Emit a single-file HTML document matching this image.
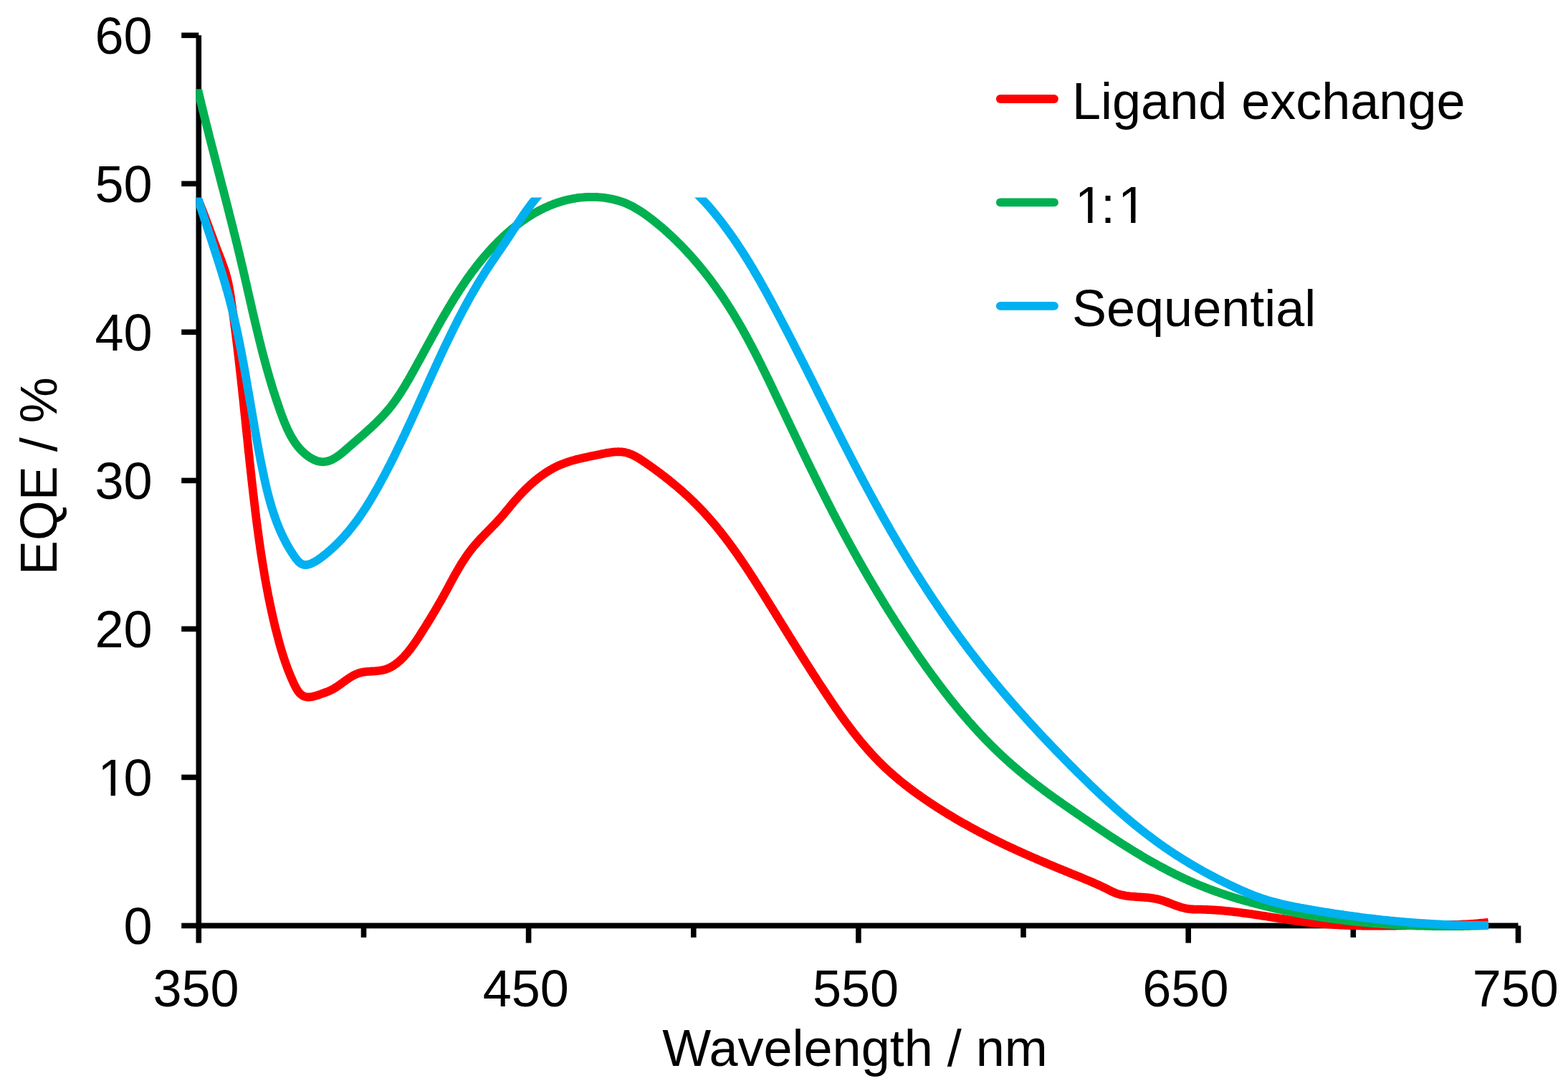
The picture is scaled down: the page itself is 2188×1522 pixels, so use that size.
<!DOCTYPE html>
<html><head><meta charset="utf-8"><title>EQE vs Wavelength</title>
<style>html,body{margin:0;padding:0;background:#fff;}body{width:2188px;height:1522px;overflow:hidden;}svg{display:block;}</style>
</head><body>
<svg xmlns="http://www.w3.org/2000/svg" width="2188" height="1522" viewBox="0 0 2188 1522">
<g stroke="#000" stroke-width="7.6" fill="none">
<path d="M277.3,49.3 V1291.4 H2118.5"/>
<path d="M253.2,1291.4 H277.3"/>
<path d="M253.2,1084.4 H277.3"/>
<path d="M253.2,877.4 H277.3"/>
<path d="M253.2,670.4 H277.3"/>
<path d="M253.2,463.3 H277.3"/>
<path d="M253.2,256.3 H277.3"/>
<path d="M253.2,49.3 H277.3"/>
<path d="M277.3,1291.4 V1315.5"/>
<path d="M737.6,1291.4 V1315.5"/>
<path d="M1197.9,1291.4 V1315.5"/>
<path d="M1658.2,1291.4 V1315.5"/>
<path d="M2118.5,1291.4 V1315.5"/>
<path d="M507.5,1291.4 V1307.8"/>
<path d="M967.8,1291.4 V1307.8"/>
<path d="M1428.0,1291.4 V1307.8"/>
<path d="M1888.3,1291.4 V1307.8"/>
</g>
<defs>
<clipPath id="cr"><rect x="273.4" y="277.0" width="1915" height="1023.0"/></clipPath>
<clipPath id="cg"><rect x="273.4" y="124.2" width="1915" height="1175.8"/></clipPath>
<clipPath id="cb"><rect x="273.4" y="275.6" width="1915" height="1024.4"/></clipPath>
</defs>
<g fill="none" stroke-width="11.8" stroke-linejoin="round" stroke-linecap="butt">
<path clip-path="url(#cr)" stroke="#FF0000" d="M273.5,271.7 L274.3,273.6 L275.1,275.4 L275.9,277.3 L276.7,279.1 L277.4,281.0 L278.2,282.8 L279.0,284.7 L279.7,286.5 L280.4,288.4 L281.2,290.2 L281.9,292.1 L282.6,294.0 L283.4,295.8 L284.1,297.7 L284.8,299.6 L285.5,301.4 L286.2,303.3 L286.9,305.2 L287.6,307.0 L288.3,308.9 L289.0,310.8 L289.7,312.7 L290.4,314.5 L291.1,316.4 L291.8,318.3 L292.5,320.2 L293.1,322.0 L293.8,323.9 L294.5,325.8 L295.2,327.7 L295.9,329.5 L296.6,331.4 L297.3,333.3 L298.0,335.2 L298.7,337.0 L299.4,338.9 L300.1,340.8 L300.8,342.7 L301.5,344.5 L302.2,346.4 L302.9,348.3 L303.6,350.2 L304.3,352.0 L305.1,353.9 L305.8,355.8 L306.5,357.6 L307.2,359.5 L308.0,361.4 L308.7,363.3 L309.4,365.1 L310.1,367.0 L310.7,368.9 L311.4,370.8 L312.1,372.7 L312.7,374.5 L313.4,376.4 L314.0,378.3 L314.6,380.2 L315.2,382.1 L315.7,384.1 L316.3,386.0 L316.8,387.9 L317.3,389.8 L317.7,391.8 L318.2,393.7 L318.6,395.7 L319.0,397.6 L319.4,399.6 L319.8,401.5 L320.1,403.5 L320.5,405.5 L320.8,407.5 L321.1,409.4 L321.5,411.4 L321.8,413.4 L322.1,415.4 L322.3,417.4 L322.6,419.3 L322.9,421.3 L323.2,423.3 L323.5,425.3 L323.8,427.3 L324.1,429.2 L324.3,431.2 L324.6,433.2 L324.9,435.2 L325.2,437.2 L325.4,439.2 L325.7,441.2 L326.0,443.1 L326.2,445.1 L326.5,447.1 L326.8,449.1 L327.0,451.1 L327.3,453.1 L327.5,455.0 L327.8,457.0 L328.1,459.0 L328.3,461.0 L328.6,463.0 L328.8,465.0 L329.1,466.9 L329.3,468.9 L329.6,470.9 L329.8,472.9 L330.0,474.9 L330.3,476.9 L330.5,478.9 L330.8,480.8 L331.0,482.8 L331.3,484.8 L331.5,486.8 L331.7,488.8 L332.0,490.8 L332.2,492.8 L332.4,494.7 L332.7,496.7 L332.9,498.7 L333.1,500.7 L333.4,502.7 L333.6,504.7 L333.8,506.7 L334.0,508.6 L334.3,510.6 L334.5,512.6 L334.7,514.6 L334.9,516.6 L335.2,518.6 L335.4,520.6 L335.6,522.5 L335.8,524.5 L336.0,526.5 L336.3,528.5 L336.5,530.5 L336.7,532.5 L336.9,534.5 L337.1,536.5 L337.3,538.4 L337.6,540.4 L337.8,542.4 L338.0,544.4 L338.2,546.4 L338.4,548.4 L338.6,550.4 L338.8,552.3 L339.0,554.3 L339.3,556.3 L339.5,558.3 L339.7,560.3 L339.9,562.3 L340.1,564.3 L340.3,566.3 L340.5,568.2 L340.7,570.2 L340.9,572.2 L341.1,574.2 L341.3,576.2 L341.5,578.2 L341.8,580.2 L342.0,582.2 L342.2,584.2 L342.4,586.1 L342.6,588.1 L342.8,590.1 L343.0,592.1 L343.2,594.1 L343.4,596.1 L343.6,598.1 L343.8,600.1 L344.0,602.0 L344.2,604.0 L344.4,606.0 L344.6,608.0 L344.9,610.0 L345.1,612.0 L345.3,614.0 L345.5,616.0 L345.7,617.9 L345.9,619.9 L346.1,621.9 L346.3,623.9 L346.5,625.9 L346.7,627.9 L346.9,629.9 L347.1,631.9 L347.4,633.9 L347.6,635.8 L347.8,637.8 L348.0,639.8 L348.2,641.8 L348.4,643.8 L348.6,645.8 L348.8,647.8 L349.1,649.8 L349.3,651.8 L349.5,653.7 L349.7,655.7 L349.9,657.7 L350.1,659.7 L350.4,661.7 L350.6,663.7 L350.8,665.7 L351.0,667.7 L351.2,669.6 L351.5,671.6 L351.7,673.6 L351.9,675.6 L352.1,677.6 L352.4,679.6 L352.6,681.6 L352.8,683.6 L353.0,685.6 L353.3,687.5 L353.5,689.5 L353.7,691.5 L354.0,693.5 L354.2,695.5 L354.4,697.5 L354.7,699.5 L354.9,701.5 L355.1,703.5 L355.4,705.4 L355.6,707.4 L355.9,709.4 L356.1,711.4 L356.3,713.4 L356.6,715.4 L356.8,717.4 L357.1,719.4 L357.3,721.4 L357.6,723.3 L357.8,725.3 L358.1,727.3 L358.3,729.3 L358.6,731.3 L358.9,733.3 L359.1,735.3 L359.4,737.3 L359.6,739.2 L359.9,741.2 L360.2,743.2 L360.4,745.2 L360.7,747.2 L361.0,749.2 L361.3,751.2 L361.5,753.1 L361.8,755.1 L362.1,757.1 L362.4,759.1 L362.7,761.1 L362.9,763.0 L363.2,765.0 L363.5,767.0 L363.8,769.0 L364.1,771.0 L364.4,773.0 L364.7,774.9 L365.0,776.9 L365.3,778.9 L365.6,780.9 L365.9,782.8 L366.3,784.8 L366.6,786.8 L366.9,788.8 L367.2,790.7 L367.5,792.7 L367.9,794.7 L368.2,796.7 L368.5,798.6 L368.9,800.6 L369.2,802.6 L369.5,804.5 L369.9,806.5 L370.2,808.5 L370.6,810.4 L370.9,812.4 L371.3,814.4 L371.6,816.3 L372.0,818.3 L372.4,820.3 L372.7,822.2 L373.1,824.2 L373.5,826.2 L373.9,828.1 L374.2,830.1 L374.6,832.0 L375.0,834.0 L375.4,835.9 L375.8,837.9 L376.2,839.8 L376.6,841.8 L377.0,843.7 L377.4,845.7 L377.8,847.6 L378.3,849.6 L378.7,851.5 L379.1,853.5 L379.5,855.4 L380.0,857.4 L380.4,859.3 L380.8,861.3 L381.3,863.2 L381.7,865.1 L382.2,867.1 L382.6,869.0 L383.1,870.9 L383.6,872.9 L384.0,874.8 L384.5,876.7 L385.0,878.7 L385.5,880.6 L386.0,882.5 L386.5,884.4 L387.0,886.4 L387.5,888.3 L388.0,890.2 L388.5,892.1 L389.0,894.0 L389.5,896.0 L390.0,897.9 L390.6,899.8 L391.1,901.7 L391.7,903.6 L392.2,905.5 L392.8,907.4 L393.4,909.4 L394.0,911.3 L394.6,913.2 L395.2,915.1 L395.8,917.0 L396.4,918.9 L397.1,920.8 L397.7,922.7 L398.4,924.6 L399.0,926.5 L399.7,928.4 L400.4,930.3 L401.1,932.2 L401.8,934.1 L402.6,936.0 L403.3,937.9 L404.1,939.8 L404.9,941.7 L405.6,943.6 L406.5,945.5 L407.3,947.4 L408.1,949.3 L409.0,951.2 L409.8,953.1 L410.7,954.9 L411.6,956.8 L412.6,958.7 L413.6,960.4 L414.6,962.2 L415.7,963.8 L416.8,965.4 L418.0,966.8 L419.3,968.1 L420.7,969.2 L422.1,970.2 L423.6,971.1 L425.3,971.7 L427.0,972.1 L428.8,972.4 L430.7,972.5 L432.6,972.4 L434.5,972.1 L436.5,971.8 L438.5,971.3 L440.5,970.8 L442.5,970.1 L444.5,969.5 L446.6,968.7 L448.6,968.0 L450.5,967.3 L452.5,966.6 L454.4,965.9 L456.3,965.2 L458.2,964.5 L460.0,963.7 L461.8,962.8 L463.6,961.9 L465.3,961.0 L467.1,959.9 L468.8,958.9 L470.4,957.8 L472.1,956.6 L473.8,955.5 L475.4,954.3 L477.1,953.1 L478.7,951.9 L480.3,950.7 L482.0,949.5 L483.6,948.4 L485.3,947.2 L487.0,946.1 L488.6,945.0 L490.3,944.0 L492.0,943.0 L493.8,942.0 L495.5,941.2 L497.3,940.4 L499.1,939.7 L500.9,939.0 L502.8,938.5 L504.7,938.0 L506.7,937.7 L508.6,937.4 L510.6,937.1 L512.6,936.9 L514.7,936.8 L516.7,936.6 L518.7,936.5 L520.8,936.4 L522.8,936.3 L524.8,936.1 L526.8,936.0 L528.8,935.7 L530.8,935.5 L532.7,935.1 L534.7,934.7 L536.5,934.3 L538.4,933.7 L540.2,933.0 L542.0,932.3 L543.7,931.5 L545.5,930.6 L547.2,929.7 L548.8,928.7 L550.4,927.6 L552.0,926.5 L553.6,925.3 L555.2,924.1 L556.7,922.8 L558.2,921.5 L559.6,920.1 L561.1,918.7 L562.5,917.3 L563.9,915.9 L565.2,914.4 L566.5,912.9 L567.9,911.3 L569.2,909.8 L570.4,908.2 L571.7,906.7 L572.9,905.1 L574.1,903.5 L575.3,901.8 L576.5,900.2 L577.7,898.6 L578.8,896.9 L579.9,895.3 L581.1,893.6 L582.2,892.0 L583.3,890.3 L584.4,888.6 L585.5,886.9 L586.6,885.2 L587.6,883.5 L588.7,881.8 L589.8,880.1 L590.8,878.4 L591.9,876.8 L593.0,875.1 L594.0,873.4 L595.1,871.7 L596.1,870.0 L597.2,868.3 L598.2,866.6 L599.3,864.9 L600.3,863.2 L601.3,861.5 L602.4,859.8 L603.4,858.0 L604.4,856.3 L605.5,854.6 L606.5,852.9 L607.5,851.2 L608.5,849.5 L609.5,847.8 L610.5,846.1 L611.5,844.3 L612.5,842.6 L613.5,840.9 L614.5,839.1 L615.5,837.4 L616.5,835.7 L617.4,833.9 L618.4,832.2 L619.4,830.4 L620.3,828.7 L621.3,826.9 L622.3,825.2 L623.2,823.4 L624.2,821.7 L625.1,819.9 L626.1,818.2 L627.0,816.4 L627.9,814.6 L628.9,812.9 L629.8,811.1 L630.8,809.4 L631.7,807.6 L632.7,805.8 L633.7,804.1 L634.6,802.3 L635.6,800.6 L636.6,798.9 L637.6,797.1 L638.6,795.4 L639.6,793.7 L640.6,791.9 L641.6,790.2 L642.6,788.5 L643.7,786.8 L644.7,785.1 L645.8,783.4 L646.9,781.8 L648.0,780.1 L649.1,778.4 L650.2,776.8 L651.3,775.1 L652.5,773.5 L653.6,771.9 L654.8,770.3 L656.0,768.7 L657.2,767.1 L658.5,765.5 L659.7,764.0 L661.0,762.4 L662.3,760.9 L663.6,759.4 L664.9,757.9 L666.3,756.4 L667.6,754.9 L669.0,753.4 L670.4,751.9 L671.8,750.4 L673.1,749.0 L674.5,747.5 L675.9,746.0 L677.3,744.6 L678.8,743.1 L680.2,741.7 L681.6,740.2 L683.0,738.8 L684.4,737.4 L685.8,735.9 L687.2,734.5 L688.6,733.0 L690.0,731.6 L691.4,730.1 L692.7,728.7 L694.1,727.2 L695.4,725.8 L696.8,724.3 L698.1,722.8 L699.4,721.3 L700.7,719.9 L702.0,718.4 L703.3,716.9 L704.5,715.4 L705.8,713.8 L707.0,712.3 L708.3,710.8 L709.5,709.3 L710.8,707.8 L712.0,706.3 L713.3,704.7 L714.6,703.2 L715.8,701.7 L717.1,700.2 L718.4,698.7 L719.7,697.2 L721.1,695.7 L722.4,694.2 L723.8,692.7 L725.1,691.2 L726.5,689.7 L727.9,688.2 L729.3,686.8 L730.7,685.3 L732.1,683.9 L733.6,682.4 L735.1,681.0 L736.5,679.6 L738.0,678.2 L739.5,676.8 L741.0,675.4 L742.5,674.1 L744.1,672.8 L745.6,671.4 L747.2,670.1 L748.8,668.8 L750.3,667.6 L751.9,666.3 L753.6,665.1 L755.2,663.9 L756.8,662.7 L758.5,661.6 L760.1,660.4 L761.8,659.3 L763.5,658.2 L765.2,657.2 L766.9,656.1 L768.6,655.1 L770.3,654.2 L772.0,653.2 L773.8,652.3 L775.6,651.4 L777.3,650.5 L779.1,649.7 L780.9,648.9 L782.7,648.1 L784.5,647.4 L786.4,646.7 L788.2,646.0 L790.0,645.4 L791.9,644.7 L793.8,644.1 L795.6,643.5 L797.5,642.9 L799.4,642.4 L801.3,641.9 L803.2,641.3 L805.1,640.8 L807.1,640.4 L809.0,639.9 L810.9,639.4 L812.9,639.0 L814.8,638.5 L816.8,638.1 L818.7,637.7 L820.7,637.2 L822.7,636.8 L824.7,636.4 L826.7,636.0 L828.7,635.6 L830.7,635.2 L832.7,634.8 L834.7,634.4 L836.7,634.0 L838.7,633.5 L840.7,633.1 L842.8,632.7 L844.8,632.3 L846.8,631.9 L848.8,631.6 L850.8,631.3 L852.9,631.0 L854.9,630.7 L856.8,630.5 L858.8,630.4 L860.8,630.3 L862.8,630.2 L864.7,630.3 L866.6,630.4 L868.6,630.5 L870.5,630.8 L872.3,631.1 L874.2,631.6 L876.0,632.1 L877.8,632.7 L879.6,633.4 L881.4,634.1 L883.2,634.9 L885.0,635.8 L886.7,636.7 L888.4,637.7 L890.2,638.7 L891.9,639.7 L893.6,640.8 L895.3,641.9 L897.0,643.0 L898.6,644.1 L900.3,645.3 L902.0,646.4 L903.6,647.6 L905.3,648.8 L907.0,649.9 L908.6,651.1 L910.3,652.3 L911.9,653.4 L913.5,654.6 L915.2,655.8 L916.8,657.0 L918.4,658.2 L920.0,659.4 L921.7,660.6 L923.3,661.8 L924.9,663.1 L926.5,664.3 L928.1,665.5 L929.6,666.8 L931.2,668.0 L932.8,669.2 L934.4,670.5 L935.9,671.8 L937.5,673.0 L939.0,674.3 L940.6,675.6 L942.1,676.9 L943.7,678.1 L945.2,679.4 L946.7,680.7 L948.2,682.0 L949.7,683.4 L951.3,684.7 L952.8,686.0 L954.2,687.3 L955.7,688.7 L957.2,690.0 L958.7,691.3 L960.1,692.7 L961.6,694.1 L963.1,695.4 L964.5,696.8 L965.9,698.2 L967.4,699.6 L968.8,701.0 L970.2,702.4 L971.6,703.8 L973.0,705.2 L974.4,706.6 L975.8,708.0 L977.2,709.5 L978.6,710.9 L979.9,712.3 L981.3,713.8 L982.7,715.3 L984.0,716.7 L985.3,718.2 L986.7,719.7 L988.0,721.2 L989.3,722.7 L990.6,724.1 L991.9,725.6 L993.2,727.2 L994.5,728.7 L995.8,730.2 L997.1,731.7 L998.4,733.2 L999.7,734.8 L1000.9,736.3 L1002.2,737.9 L1003.4,739.4 L1004.7,741.0 L1005.9,742.5 L1007.2,744.1 L1008.4,745.7 L1009.6,747.2 L1010.8,748.8 L1012.0,750.4 L1013.3,752.0 L1014.5,753.6 L1015.7,755.2 L1016.9,756.8 L1018.1,758.4 L1019.2,760.0 L1020.4,761.6 L1021.6,763.2 L1022.8,764.8 L1023.9,766.5 L1025.1,768.1 L1026.3,769.7 L1027.4,771.4 L1028.6,773.0 L1029.7,774.6 L1030.9,776.3 L1032.0,777.9 L1033.1,779.6 L1034.3,781.2 L1035.4,782.9 L1036.5,784.6 L1037.6,786.2 L1038.8,787.9 L1039.9,789.6 L1041.0,791.2 L1042.1,792.9 L1043.2,794.6 L1044.3,796.2 L1045.4,797.9 L1046.5,799.6 L1047.6,801.3 L1048.7,803.0 L1049.8,804.7 L1050.9,806.3 L1052.0,808.0 L1053.1,809.7 L1054.1,811.4 L1055.2,813.1 L1056.3,814.8 L1057.4,816.5 L1058.4,818.2 L1059.5,819.9 L1060.6,821.6 L1061.7,823.3 L1062.7,825.0 L1063.8,826.7 L1064.9,828.4 L1065.9,830.1 L1067.0,831.8 L1068.0,833.5 L1069.1,835.2 L1070.2,836.9 L1071.2,838.6 L1072.3,840.3 L1073.3,842.0 L1074.4,843.7 L1075.4,845.4 L1076.5,847.1 L1077.6,848.8 L1078.6,850.5 L1079.7,852.2 L1080.7,853.9 L1081.8,855.6 L1082.8,857.3 L1083.9,859.0 L1084.9,860.7 L1086.0,862.4 L1087.0,864.1 L1088.1,865.8 L1089.1,867.5 L1090.2,869.2 L1091.2,870.9 L1092.3,872.6 L1093.3,874.3 L1094.4,876.0 L1095.4,877.7 L1096.5,879.4 L1097.5,881.1 L1098.6,882.8 L1099.6,884.5 L1100.7,886.2 L1101.7,887.9 L1102.8,889.6 L1103.9,891.3 L1104.9,893.0 L1106.0,894.7 L1107.0,896.4 L1108.1,898.1 L1109.1,899.7 L1110.2,901.4 L1111.2,903.1 L1112.3,904.8 L1113.4,906.5 L1114.4,908.2 L1115.5,909.9 L1116.5,911.6 L1117.6,913.3 L1118.7,914.9 L1119.7,916.6 L1120.8,918.3 L1121.9,920.0 L1122.9,921.7 L1124.0,923.4 L1125.1,925.1 L1126.1,926.7 L1127.2,928.4 L1128.3,930.1 L1129.3,931.8 L1130.4,933.5 L1131.5,935.2 L1132.6,936.8 L1133.6,938.5 L1134.7,940.2 L1135.8,941.9 L1136.9,943.6 L1138.0,945.2 L1139.1,946.9 L1140.1,948.6 L1141.2,950.3 L1142.3,951.9 L1143.4,953.6 L1144.5,955.3 L1145.6,957.0 L1146.7,958.6 L1147.8,960.3 L1148.9,962.0 L1150.0,963.7 L1151.1,965.3 L1152.2,967.0 L1153.3,968.7 L1154.4,970.3 L1155.5,972.0 L1156.7,973.7 L1157.8,975.3 L1158.9,977.0 L1160.0,978.7 L1161.1,980.3 L1162.3,982.0 L1163.4,983.6 L1164.5,985.3 L1165.7,987.0 L1166.8,988.6 L1168.0,990.3 L1169.1,991.9 L1170.3,993.5 L1171.4,995.2 L1172.6,996.8 L1173.7,998.5 L1174.9,1000.1 L1176.1,1001.7 L1177.2,1003.3 L1178.4,1005.0 L1179.6,1006.6 L1180.8,1008.2 L1182.0,1009.8 L1183.2,1011.4 L1184.4,1013.0 L1185.6,1014.6 L1186.8,1016.2 L1188.0,1017.8 L1189.2,1019.4 L1190.4,1021.0 L1191.7,1022.6 L1192.9,1024.1 L1194.2,1025.7 L1195.4,1027.3 L1196.7,1028.8 L1197.9,1030.4 L1199.2,1031.9 L1200.4,1033.5 L1201.7,1035.0 L1203.0,1036.6 L1204.3,1038.1 L1205.6,1039.6 L1206.9,1041.1 L1208.2,1042.6 L1209.5,1044.1 L1210.8,1045.6 L1212.1,1047.1 L1213.5,1048.6 L1214.8,1050.1 L1216.1,1051.6 L1217.5,1053.0 L1218.8,1054.5 L1220.2,1056.0 L1221.6,1057.4 L1223.0,1058.8 L1224.4,1060.3 L1225.7,1061.7 L1227.1,1063.1 L1228.6,1064.5 L1230.0,1065.9 L1231.4,1067.3 L1232.8,1068.7 L1234.3,1070.1 L1235.7,1071.5 L1237.2,1072.8 L1238.7,1074.2 L1240.1,1075.5 L1241.6,1076.9 L1243.1,1078.2 L1244.6,1079.5 L1246.1,1080.8 L1247.6,1082.1 L1249.1,1083.5 L1250.6,1084.7 L1252.2,1086.0 L1253.7,1087.3 L1255.3,1088.6 L1256.8,1089.9 L1258.4,1091.1 L1259.9,1092.4 L1261.5,1093.6 L1263.1,1094.9 L1264.6,1096.1 L1266.2,1097.3 L1267.8,1098.5 L1269.4,1099.7 L1271.0,1101.0 L1272.6,1102.2 L1274.2,1103.3 L1275.8,1104.5 L1277.5,1105.7 L1279.1,1106.9 L1280.7,1108.1 L1282.3,1109.2 L1284.0,1110.4 L1285.6,1111.5 L1287.3,1112.7 L1288.9,1113.8 L1290.6,1115.0 L1292.2,1116.1 L1293.9,1117.2 L1295.5,1118.3 L1297.2,1119.5 L1298.9,1120.6 L1300.5,1121.7 L1302.2,1122.8 L1303.9,1123.9 L1305.6,1125.0 L1307.2,1126.1 L1308.9,1127.1 L1310.6,1128.2 L1312.3,1129.3 L1314.0,1130.4 L1315.7,1131.4 L1317.4,1132.5 L1319.1,1133.5 L1320.8,1134.6 L1322.5,1135.6 L1324.2,1136.7 L1325.9,1137.7 L1327.6,1138.7 L1329.4,1139.7 L1331.1,1140.8 L1332.8,1141.8 L1334.5,1142.8 L1336.2,1143.8 L1338.0,1144.8 L1339.7,1145.8 L1341.4,1146.8 L1343.2,1147.8 L1344.9,1148.8 L1346.7,1149.7 L1348.4,1150.7 L1350.2,1151.7 L1351.9,1152.7 L1353.6,1153.6 L1355.4,1154.6 L1357.2,1155.5 L1358.9,1156.5 L1360.7,1157.4 L1362.4,1158.4 L1364.2,1159.3 L1366.0,1160.3 L1367.7,1161.2 L1369.5,1162.1 L1371.3,1163.0 L1373.0,1164.0 L1374.8,1164.9 L1376.6,1165.8 L1378.4,1166.7 L1380.2,1167.6 L1381.9,1168.5 L1383.7,1169.4 L1385.5,1170.3 L1387.3,1171.2 L1389.1,1172.1 L1390.9,1173.0 L1392.7,1173.8 L1394.5,1174.7 L1396.3,1175.6 L1398.1,1176.5 L1399.9,1177.3 L1401.7,1178.2 L1403.5,1179.1 L1405.3,1179.9 L1407.1,1180.8 L1408.9,1181.6 L1410.7,1182.5 L1412.6,1183.3 L1414.4,1184.1 L1416.2,1185.0 L1418.0,1185.8 L1419.8,1186.6 L1421.6,1187.5 L1423.5,1188.3 L1425.3,1189.1 L1427.1,1189.9 L1428.9,1190.8 L1430.8,1191.6 L1432.6,1192.4 L1434.4,1193.2 L1436.3,1194.0 L1438.1,1194.8 L1439.9,1195.6 L1441.8,1196.4 L1443.6,1197.2 L1445.4,1198.0 L1447.3,1198.8 L1449.1,1199.6 L1451.0,1200.4 L1452.8,1201.1 L1454.6,1201.9 L1456.5,1202.7 L1458.3,1203.5 L1460.2,1204.3 L1462.0,1205.0 L1463.8,1205.8 L1465.7,1206.6 L1467.5,1207.4 L1469.4,1208.1 L1471.2,1208.9 L1473.1,1209.7 L1474.9,1210.4 L1476.8,1211.2 L1478.6,1212.0 L1480.5,1212.7 L1482.3,1213.5 L1484.2,1214.2 L1486.0,1215.0 L1487.9,1215.8 L1489.7,1216.5 L1491.6,1217.3 L1493.4,1218.0 L1495.2,1218.8 L1497.1,1219.6 L1498.9,1220.3 L1500.8,1221.1 L1502.6,1221.8 L1504.5,1222.6 L1506.3,1223.3 L1508.2,1224.1 L1510.0,1224.8 L1511.9,1225.6 L1513.7,1226.4 L1515.5,1227.1 L1517.4,1227.9 L1519.2,1228.6 L1521.1,1229.4 L1522.9,1230.2 L1524.7,1231.0 L1526.6,1231.8 L1528.4,1232.6 L1530.2,1233.4 L1532.1,1234.2 L1533.9,1235.0 L1535.7,1235.9 L1537.5,1236.7 L1539.3,1237.6 L1541.1,1238.4 L1543.0,1239.3 L1544.8,1240.2 L1546.6,1241.1 L1548.4,1242.1 L1550.2,1243.0 L1552.0,1243.9 L1553.8,1244.7 L1555.6,1245.5 L1557.5,1246.2 L1559.3,1246.9 L1561.2,1247.4 L1563.1,1248.0 L1565.0,1248.4 L1567.0,1248.9 L1568.9,1249.2 L1570.9,1249.6 L1572.8,1249.9 L1574.8,1250.1 L1576.8,1250.4 L1578.8,1250.6 L1580.8,1250.7 L1582.8,1250.9 L1584.8,1251.0 L1586.8,1251.2 L1588.8,1251.3 L1590.8,1251.4 L1592.8,1251.6 L1594.8,1251.7 L1596.8,1251.9 L1598.8,1252.0 L1600.8,1252.2 L1602.8,1252.4 L1604.8,1252.6 L1606.8,1252.9 L1608.8,1253.1 L1610.8,1253.5 L1612.7,1253.8 L1614.7,1254.2 L1616.6,1254.7 L1618.6,1255.2 L1620.5,1255.8 L1622.4,1256.4 L1624.3,1257.0 L1626.2,1257.7 L1628.1,1258.4 L1630.0,1259.1 L1631.9,1259.8 L1633.8,1260.5 L1635.6,1261.3 L1637.5,1262.0 L1639.4,1262.7 L1641.3,1263.4 L1643.2,1264.1 L1645.1,1264.7 L1647.0,1265.3 L1648.9,1265.9 L1650.8,1266.4 L1652.7,1266.9 L1654.6,1267.4 L1656.6,1267.7 L1658.5,1268.0 L1660.5,1268.2 L1662.5,1268.4 L1664.5,1268.5 L1666.5,1268.6 L1668.5,1268.6 L1670.5,1268.7 L1672.5,1268.7 L1674.5,1268.7 L1676.5,1268.7 L1678.5,1268.8 L1680.5,1268.8 L1682.5,1268.9 L1684.5,1269.0 L1686.5,1269.1 L1688.5,1269.2 L1690.5,1269.3 L1692.5,1269.4 L1694.5,1269.5 L1696.5,1269.6 L1698.5,1269.8 L1700.5,1269.9 L1702.5,1270.1 L1704.5,1270.2 L1706.5,1270.4 L1708.5,1270.6 L1710.5,1270.8 L1712.5,1271.0 L1714.4,1271.2 L1716.4,1271.4 L1718.4,1271.6 L1720.4,1271.8 L1722.4,1272.1 L1724.4,1272.3 L1726.4,1272.5 L1728.3,1272.8 L1730.3,1273.0 L1732.3,1273.3 L1734.3,1273.6 L1736.3,1273.8 L1738.2,1274.1 L1740.2,1274.4 L1742.2,1274.7 L1744.2,1274.9 L1746.2,1275.2 L1748.1,1275.5 L1750.1,1275.8 L1752.1,1276.1 L1754.1,1276.4 L1756.1,1276.7 L1758.0,1277.0 L1760.0,1277.3 L1762.0,1277.6 L1764.0,1277.9 L1765.9,1278.2 L1767.9,1278.5 L1769.9,1278.8 L1771.9,1279.2 L1773.8,1279.5 L1775.8,1279.8 L1777.8,1280.1 L1779.8,1280.4 L1781.7,1280.7 L1783.7,1281.0 L1785.7,1281.3 L1787.7,1281.6 L1789.7,1281.9 L1791.6,1282.2 L1793.6,1282.5 L1795.6,1282.8 L1797.6,1283.1 L1799.5,1283.4 L1801.5,1283.7 L1803.5,1284.0 L1805.5,1284.3 L1807.5,1284.5 L1809.4,1284.8 L1811.4,1285.1 L1813.4,1285.3 L1815.4,1285.6 L1817.4,1285.9 L1819.3,1286.1 L1821.3,1286.3 L1823.3,1286.6 L1825.3,1286.8 L1827.3,1287.0 L1829.3,1287.3 L1831.2,1287.5 L1833.2,1287.7 L1835.2,1287.9 L1837.2,1288.1 L1839.2,1288.3 L1841.2,1288.5 L1843.2,1288.6 L1845.2,1288.8 L1847.1,1289.0 L1849.1,1289.1 L1851.1,1289.3 L1853.1,1289.4 L1855.1,1289.6 L1857.1,1289.7 L1859.1,1289.8 L1861.1,1290.0 L1863.1,1290.1 L1865.1,1290.2 L1867.1,1290.3 L1869.1,1290.4 L1871.1,1290.5 L1873.1,1290.6 L1875.1,1290.7 L1877.1,1290.8 L1879.1,1290.9 L1881.1,1290.9 L1883.1,1291.0 L1885.1,1291.1 L1887.1,1291.1 L1889.1,1291.2 L1891.1,1291.2 L1893.1,1291.3 L1895.1,1291.3 L1897.1,1291.4 L1899.1,1291.4 L1901.1,1291.5 L1903.1,1291.5 L1905.1,1291.5 L1907.1,1291.6 L1909.1,1291.6 L1911.1,1291.6 L1913.1,1291.6 L1915.1,1291.6 L1917.1,1291.6 L1919.1,1291.6 L1921.1,1291.6 L1923.1,1291.6 L1925.1,1291.6 L1927.1,1291.6 L1929.1,1291.6 L1931.1,1291.6 L1933.1,1291.6 L1935.2,1291.6 L1937.2,1291.6 L1939.2,1291.6 L1941.2,1291.5 L1943.2,1291.5 L1945.2,1291.5 L1947.2,1291.5 L1949.2,1291.4 L1951.2,1291.4 L1953.2,1291.4 L1955.2,1291.4 L1957.2,1291.3 L1959.2,1291.3 L1961.2,1291.3 L1963.2,1291.2 L1965.2,1291.2 L1967.2,1291.1 L1969.2,1291.1 L1971.2,1291.1 L1973.2,1291.0 L1975.2,1291.0 L1977.2,1290.9 L1979.2,1290.9 L1981.2,1290.9 L1983.2,1290.8 L1985.2,1290.8 L1987.2,1290.7 L1989.2,1290.7 L1991.2,1290.7 L1993.2,1290.6 L1995.2,1290.6 L1997.2,1290.5 L1999.2,1290.5 L2001.2,1290.5 L2003.2,1290.4 L2005.2,1290.4 L2007.2,1290.3 L2009.2,1290.3 L2011.2,1290.3 L2013.2,1290.2 L2015.2,1290.2 L2017.2,1290.2 L2019.2,1290.1 L2021.2,1290.1 L2023.2,1290.1 L2025.2,1290.0 L2027.2,1290.0 L2029.2,1289.9 L2031.1,1289.9 L2033.1,1289.8 L2035.1,1289.8 L2037.1,1289.7 L2039.1,1289.6 L2041.1,1289.5 L2043.1,1289.5 L2045.1,1289.4 L2047.1,1289.3 L2049.1,1289.2 L2051.1,1289.0 L2053.1,1288.9 L2055.1,1288.8 L2057.1,1288.6 L2059.0,1288.5 L2061.0,1288.3 L2063.0,1288.1 L2065.0,1287.9 L2067.0,1287.7 L2069.0,1287.5 L2071.0,1287.3 L2073.0,1287.0 L2075.0,1286.8 L2077.0,1286.5"/>
<path clip-path="url(#cg)" stroke="#00B050" d="M274.6,118.5 L275.0,120.4 L275.5,122.3 L276.0,124.3 L276.4,126.2 L276.9,128.1 L277.3,130.1 L277.8,132.0 L278.2,133.9 L278.7,135.8 L279.2,137.8 L279.6,139.7 L280.1,141.6 L280.6,143.6 L281.0,145.5 L281.5,147.4 L282.0,149.4 L282.4,151.3 L282.9,153.2 L283.4,155.2 L283.9,157.1 L284.4,159.0 L284.8,161.0 L285.3,162.9 L285.8,164.8 L286.3,166.8 L286.8,168.7 L287.2,170.6 L287.7,172.6 L288.2,174.5 L288.7,176.4 L289.2,178.4 L289.7,180.3 L290.2,182.2 L290.7,184.2 L291.1,186.1 L291.6,188.1 L292.1,190.0 L292.6,191.9 L293.1,193.9 L293.6,195.8 L294.1,197.8 L294.6,199.7 L295.1,201.6 L295.6,203.6 L296.1,205.5 L296.6,207.4 L297.1,209.4 L297.6,211.3 L298.1,213.3 L298.6,215.2 L299.1,217.2 L299.6,219.1 L300.1,221.0 L300.6,223.0 L301.1,224.9 L301.6,226.9 L302.1,228.8 L302.6,230.7 L303.1,232.7 L303.6,234.6 L304.1,236.6 L304.6,238.5 L305.1,240.5 L305.6,242.4 L306.1,244.3 L306.6,246.3 L307.1,248.2 L307.6,250.2 L308.1,252.1 L308.6,254.1 L309.1,256.0 L309.6,258.0 L310.1,259.9 L310.6,261.8 L311.2,263.8 L311.7,265.7 L312.2,267.7 L312.7,269.6 L313.2,271.6 L313.7,273.5 L314.2,275.5 L314.7,277.4 L315.2,279.3 L315.7,281.3 L316.2,283.2 L316.7,285.2 L317.2,287.1 L317.7,289.1 L318.2,291.0 L318.7,293.0 L319.2,294.9 L319.7,296.9 L320.1,298.8 L320.6,300.7 L321.1,302.7 L321.6,304.6 L322.1,306.6 L322.6,308.5 L323.1,310.5 L323.6,312.4 L324.1,314.4 L324.6,316.3 L325.1,318.3 L325.6,320.2 L326.0,322.1 L326.5,324.1 L327.0,326.0 L327.5,328.0 L328.0,329.9 L328.5,331.9 L328.9,333.8 L329.4,335.8 L329.9,337.7 L330.4,339.6 L330.9,341.6 L331.3,343.5 L331.8,345.5 L332.3,347.4 L332.7,349.4 L333.2,351.3 L333.7,353.3 L334.2,355.2 L334.6,357.1 L335.1,359.1 L335.5,361.0 L336.0,363.0 L336.5,364.9 L336.9,366.9 L337.4,368.8 L337.8,370.7 L338.3,372.7 L338.8,374.6 L339.2,376.6 L339.7,378.5 L340.1,380.5 L340.6,382.4 L341.0,384.3 L341.5,386.3 L341.9,388.2 L342.3,390.2 L342.8,392.1 L343.2,394.0 L343.7,396.0 L344.1,397.9 L344.6,399.9 L345.0,401.8 L345.4,403.7 L345.9,405.7 L346.3,407.6 L346.8,409.6 L347.2,411.5 L347.7,413.4 L348.1,415.4 L348.5,417.3 L349.0,419.3 L349.4,421.2 L349.9,423.1 L350.3,425.1 L350.8,427.0 L351.2,429.0 L351.6,430.9 L352.1,432.8 L352.5,434.8 L353.0,436.7 L353.4,438.6 L353.9,440.6 L354.3,442.5 L354.8,444.5 L355.2,446.4 L355.7,448.3 L356.1,450.3 L356.6,452.2 L357.1,454.1 L357.5,456.1 L358.0,458.0 L358.4,459.9 L358.9,461.9 L359.4,463.8 L359.8,465.7 L360.3,467.7 L360.8,469.6 L361.3,471.6 L361.7,473.5 L362.2,475.4 L362.7,477.4 L363.2,479.3 L363.7,481.2 L364.1,483.2 L364.6,485.1 L365.1,487.0 L365.6,489.0 L366.1,490.9 L366.6,492.8 L367.1,494.8 L367.6,496.7 L368.2,498.6 L368.7,500.6 L369.2,502.5 L369.7,504.4 L370.2,506.4 L370.8,508.3 L371.3,510.2 L371.8,512.2 L372.4,514.1 L372.9,516.0 L373.5,518.0 L374.0,519.9 L374.6,521.8 L375.1,523.7 L375.7,525.7 L376.2,527.6 L376.8,529.5 L377.4,531.5 L378.0,533.4 L378.5,535.3 L379.1,537.3 L379.7,539.2 L380.3,541.1 L380.9,543.1 L381.5,545.0 L382.1,546.9 L382.8,548.8 L383.4,550.8 L384.0,552.7 L384.6,554.6 L385.3,556.6 L385.9,558.5 L386.6,560.4 L387.2,562.4 L387.9,564.3 L388.5,566.2 L389.2,568.1 L389.9,570.1 L390.5,572.0 L391.2,573.9 L391.9,575.9 L392.6,577.8 L393.3,579.7 L394.0,581.6 L394.8,583.5 L395.5,585.5 L396.3,587.4 L397.0,589.3 L397.8,591.1 L398.6,593.0 L399.4,594.9 L400.2,596.7 L401.0,598.6 L401.9,600.4 L402.8,602.2 L403.7,604.0 L404.6,605.8 L405.5,607.5 L406.5,609.3 L407.5,611.0 L408.5,612.7 L409.6,614.3 L410.6,616.0 L411.7,617.6 L412.9,619.2 L414.0,620.7 L415.2,622.3 L416.5,623.8 L417.7,625.3 L419.0,626.7 L420.3,628.1 L421.7,629.5 L423.1,630.8 L424.5,632.1 L426.0,633.4 L427.5,634.6 L429.1,635.8 L430.7,637.0 L432.3,638.1 L434.0,639.1 L435.8,640.1 L437.5,641.0 L439.3,641.8 L441.1,642.5 L442.9,643.2 L444.8,643.6 L446.6,644.0 L448.5,644.2 L450.4,644.3 L452.3,644.2 L454.1,644.0 L456.0,643.7 L457.9,643.2 L459.8,642.6 L461.6,641.9 L463.4,641.1 L465.2,640.2 L467.0,639.2 L468.7,638.1 L470.4,637.0 L472.1,635.9 L473.8,634.6 L475.4,633.4 L477.0,632.1 L478.6,630.8 L480.2,629.4 L481.8,628.0 L483.3,626.7 L484.9,625.3 L486.5,623.9 L488.0,622.6 L489.6,621.2 L491.2,619.9 L492.7,618.5 L494.3,617.2 L495.8,615.8 L497.4,614.5 L498.9,613.2 L500.4,611.8 L502.0,610.5 L503.5,609.2 L505.0,607.8 L506.6,606.5 L508.1,605.2 L509.6,603.8 L511.1,602.5 L512.6,601.1 L514.0,599.8 L515.5,598.5 L517.0,597.1 L518.5,595.8 L519.9,594.4 L521.3,593.0 L522.8,591.7 L524.2,590.3 L525.6,588.9 L527.0,587.5 L528.4,586.1 L529.8,584.7 L531.2,583.3 L532.5,581.9 L533.9,580.5 L535.2,579.0 L536.5,577.6 L537.9,576.1 L539.2,574.6 L540.4,573.2 L541.7,571.7 L543.0,570.1 L544.2,568.6 L545.4,567.1 L546.7,565.5 L547.9,564.0 L549.0,562.4 L550.2,560.8 L551.4,559.2 L552.5,557.6 L553.7,556.0 L554.8,554.3 L555.9,552.7 L557.0,551.0 L558.1,549.4 L559.2,547.7 L560.2,546.0 L561.3,544.3 L562.4,542.6 L563.4,540.9 L564.5,539.2 L565.5,537.5 L566.5,535.8 L567.5,534.0 L568.5,532.3 L569.6,530.6 L570.6,528.8 L571.6,527.1 L572.6,525.3 L573.6,523.6 L574.5,521.8 L575.5,520.1 L576.5,518.3 L577.5,516.5 L578.5,514.8 L579.5,513.0 L580.4,511.3 L581.4,509.5 L582.4,507.7 L583.3,506.0 L584.3,504.2 L585.3,502.4 L586.3,500.7 L587.2,498.9 L588.2,497.1 L589.2,495.4 L590.1,493.6 L591.1,491.8 L592.0,490.1 L593.0,488.3 L594.0,486.5 L594.9,484.8 L595.9,483.0 L596.9,481.2 L597.8,479.5 L598.8,477.7 L599.8,475.9 L600.7,474.2 L601.7,472.4 L602.7,470.7 L603.6,468.9 L604.6,467.1 L605.6,465.4 L606.5,463.6 L607.5,461.9 L608.5,460.1 L609.5,458.3 L610.4,456.6 L611.4,454.8 L612.4,453.1 L613.4,451.3 L614.4,449.6 L615.3,447.8 L616.3,446.1 L617.3,444.4 L618.3,442.6 L619.3,440.9 L620.3,439.1 L621.3,437.4 L622.3,435.7 L623.3,434.0 L624.4,432.2 L625.4,430.5 L626.4,428.8 L627.4,427.1 L628.5,425.4 L629.5,423.6 L630.5,421.9 L631.6,420.2 L632.6,418.5 L633.7,416.8 L634.7,415.1 L635.8,413.4 L636.8,411.7 L637.9,410.1 L639.0,408.4 L640.1,406.7 L641.1,405.0 L642.2,403.4 L643.3,401.7 L644.4,400.0 L645.5,398.4 L646.6,396.7 L647.8,395.1 L648.9,393.4 L650.0,391.8 L651.1,390.2 L652.3,388.5 L653.4,386.9 L654.6,385.3 L655.8,383.7 L656.9,382.0 L658.1,380.4 L659.3,378.8 L660.5,377.2 L661.7,375.7 L662.9,374.1 L664.1,372.5 L665.3,370.9 L666.5,369.3 L667.8,367.8 L669.0,366.2 L670.3,364.7 L671.5,363.1 L672.8,361.6 L674.1,360.1 L675.4,358.5 L676.7,357.0 L678.0,355.5 L679.3,354.0 L680.6,352.5 L681.9,351.0 L683.3,349.5 L684.6,348.0 L686.0,346.5 L687.3,345.1 L688.7,343.6 L690.1,342.2 L691.5,340.7 L692.9,339.3 L694.3,337.8 L695.7,336.4 L697.2,335.0 L698.6,333.6 L700.1,332.2 L701.5,330.8 L703.0,329.5 L704.5,328.1 L706.0,326.7 L707.5,325.4 L709.0,324.1 L710.5,322.8 L712.0,321.5 L713.5,320.2 L715.1,318.9 L716.6,317.6 L718.2,316.4 L719.8,315.1 L721.4,313.9 L723.0,312.7 L724.6,311.5 L726.2,310.3 L727.8,309.1 L729.4,307.9 L731.0,306.8 L732.7,305.7 L734.3,304.5 L736.0,303.5 L737.7,302.4 L739.3,301.3 L741.0,300.3 L742.7,299.2 L744.4,298.2 L746.2,297.2 L747.9,296.2 L749.6,295.3 L751.3,294.3 L753.1,293.4 L754.9,292.5 L756.6,291.6 L758.4,290.7 L760.2,289.9 L762.0,289.1 L763.8,288.3 L765.6,287.5 L767.4,286.7 L769.2,286.0 L771.1,285.3 L772.9,284.5 L774.8,283.9 L776.6,283.2 L778.5,282.6 L780.4,282.0 L782.3,281.4 L784.2,280.8 L786.1,280.3 L788.0,279.8 L789.9,279.3 L791.8,278.8 L793.8,278.3 L795.7,277.9 L797.7,277.5 L799.6,277.2 L801.6,276.8 L803.6,276.5 L805.6,276.2 L807.6,275.9 L809.6,275.7 L811.6,275.5 L813.6,275.3 L815.6,275.1 L817.6,275.0 L819.7,274.9 L821.7,274.8 L823.8,274.8 L825.8,274.8 L827.9,274.8 L829.9,274.9 L832.0,274.9 L834.0,275.0 L836.1,275.2 L838.1,275.3 L840.2,275.5 L842.2,275.7 L844.2,276.0 L846.3,276.3 L848.3,276.6 L850.3,277.0 L852.3,277.3 L854.3,277.7 L856.3,278.2 L858.2,278.7 L860.2,279.2 L862.1,279.7 L864.0,280.3 L866.0,280.9 L867.8,281.6 L869.7,282.2 L871.6,282.9 L873.4,283.7 L875.2,284.5 L877.0,285.3 L878.8,286.1 L880.6,287.0 L882.4,287.9 L884.1,288.8 L885.8,289.8 L887.5,290.8 L889.2,291.8 L890.9,292.8 L892.6,293.8 L894.2,294.9 L895.9,296.0 L897.5,297.1 L899.1,298.2 L900.7,299.4 L902.3,300.5 L903.9,301.7 L905.5,302.9 L907.1,304.1 L908.7,305.3 L910.3,306.5 L911.8,307.7 L913.4,309.0 L914.9,310.2 L916.5,311.5 L918.0,312.7 L919.5,314.0 L921.1,315.3 L922.6,316.5 L924.1,317.8 L925.6,319.1 L927.1,320.4 L928.6,321.8 L930.1,323.1 L931.6,324.4 L933.0,325.8 L934.5,327.1 L936.0,328.5 L937.4,329.8 L938.9,331.2 L940.3,332.6 L941.8,334.0 L943.2,335.3 L944.6,336.7 L946.0,338.2 L947.5,339.6 L948.9,341.0 L950.3,342.4 L951.7,343.8 L953.1,345.3 L954.5,346.7 L955.8,348.2 L957.2,349.6 L958.6,351.1 L959.9,352.6 L961.3,354.1 L962.6,355.5 L964.0,357.0 L965.3,358.5 L966.7,360.0 L968.0,361.6 L969.3,363.1 L970.6,364.6 L971.9,366.1 L973.2,367.6 L974.5,369.2 L975.8,370.7 L977.1,372.3 L978.4,373.8 L979.6,375.4 L980.9,377.0 L982.2,378.5 L983.4,380.1 L984.7,381.7 L985.9,383.3 L987.1,384.8 L988.4,386.4 L989.6,388.0 L990.8,389.6 L992.0,391.2 L993.2,392.9 L994.4,394.5 L995.6,396.1 L996.8,397.7 L998.0,399.3 L999.1,401.0 L1000.3,402.6 L1001.4,404.3 L1002.6,405.9 L1003.8,407.6 L1004.9,409.2 L1006.0,410.9 L1007.2,412.5 L1008.3,414.2 L1009.4,415.8 L1010.5,417.5 L1011.6,419.2 L1012.7,420.9 L1013.8,422.5 L1014.9,424.2 L1016.0,425.9 L1017.0,427.6 L1018.1,429.3 L1019.2,431.0 L1020.2,432.7 L1021.3,434.4 L1022.3,436.1 L1023.4,437.8 L1024.4,439.5 L1025.4,441.2 L1026.5,442.9 L1027.5,444.6 L1028.5,446.4 L1029.5,448.1 L1030.5,449.8 L1031.5,451.5 L1032.5,453.3 L1033.5,455.0 L1034.5,456.7 L1035.5,458.5 L1036.5,460.2 L1037.4,462.0 L1038.4,463.7 L1039.4,465.4 L1040.3,467.2 L1041.3,468.9 L1042.3,470.7 L1043.2,472.5 L1044.2,474.2 L1045.1,476.0 L1046.0,477.7 L1047.0,479.5 L1047.9,481.3 L1048.9,483.0 L1049.8,484.8 L1050.7,486.6 L1051.6,488.3 L1052.5,490.1 L1053.5,491.9 L1054.4,493.7 L1055.3,495.4 L1056.2,497.2 L1057.1,499.0 L1058.0,500.8 L1058.9,502.6 L1059.8,504.3 L1060.7,506.1 L1061.6,507.9 L1062.5,509.7 L1063.3,511.5 L1064.2,513.3 L1065.1,515.1 L1066.0,516.9 L1066.9,518.7 L1067.8,520.4 L1068.6,522.2 L1069.5,524.0 L1070.4,525.8 L1071.2,527.6 L1072.1,529.4 L1073.0,531.2 L1073.9,533.0 L1074.7,534.8 L1075.6,536.6 L1076.4,538.4 L1077.3,540.2 L1078.2,542.0 L1079.0,543.8 L1079.9,545.6 L1080.8,547.5 L1081.6,549.3 L1082.5,551.1 L1083.3,552.9 L1084.2,554.7 L1085.1,556.5 L1085.9,558.3 L1086.8,560.1 L1087.6,561.9 L1088.5,563.7 L1089.3,565.5 L1090.2,567.3 L1091.1,569.1 L1091.9,570.9 L1092.8,572.7 L1093.6,574.5 L1094.5,576.3 L1095.3,578.1 L1096.2,579.9 L1097.1,581.7 L1097.9,583.6 L1098.8,585.4 L1099.6,587.2 L1100.5,589.0 L1101.3,590.8 L1102.2,592.6 L1103.1,594.4 L1103.9,596.2 L1104.8,598.0 L1105.6,599.8 L1106.5,601.6 L1107.4,603.4 L1108.2,605.2 L1109.1,607.0 L1109.9,608.8 L1110.8,610.6 L1111.7,612.4 L1112.5,614.2 L1113.4,616.0 L1114.3,617.8 L1115.1,619.6 L1116.0,621.5 L1116.8,623.3 L1117.7,625.1 L1118.6,626.9 L1119.4,628.7 L1120.3,630.5 L1121.2,632.3 L1122.0,634.1 L1122.9,635.9 L1123.8,637.7 L1124.6,639.5 L1125.5,641.3 L1126.4,643.1 L1127.3,644.9 L1128.1,646.7 L1129.0,648.5 L1129.9,650.3 L1130.8,652.1 L1131.6,653.9 L1132.5,655.7 L1133.4,657.4 L1134.3,659.2 L1135.2,661.0 L1136.0,662.8 L1136.9,664.6 L1137.8,666.4 L1138.7,668.2 L1139.6,670.0 L1140.5,671.8 L1141.3,673.6 L1142.2,675.4 L1143.1,677.2 L1144.0,679.0 L1144.9,680.8 L1145.8,682.5 L1146.7,684.3 L1147.6,686.1 L1148.5,687.9 L1149.4,689.7 L1150.3,691.5 L1151.2,693.3 L1152.1,695.1 L1153.0,696.8 L1153.9,698.6 L1154.8,700.4 L1155.7,702.2 L1156.6,704.0 L1157.5,705.8 L1158.4,707.5 L1159.4,709.3 L1160.3,711.1 L1161.2,712.9 L1162.1,714.7 L1163.0,716.4 L1164.0,718.2 L1164.9,720.0 L1165.8,721.8 L1166.7,723.5 L1167.7,725.3 L1168.6,727.1 L1169.5,728.8 L1170.5,730.6 L1171.4,732.4 L1172.3,734.2 L1173.3,735.9 L1174.2,737.7 L1175.1,739.5 L1176.1,741.2 L1177.0,743.0 L1178.0,744.8 L1178.9,746.5 L1179.9,748.3 L1180.8,750.0 L1181.8,751.8 L1182.7,753.6 L1183.7,755.3 L1184.7,757.1 L1185.6,758.8 L1186.6,760.6 L1187.5,762.3 L1188.5,764.1 L1189.5,765.9 L1190.4,767.6 L1191.4,769.4 L1192.4,771.1 L1193.4,772.9 L1194.3,774.6 L1195.3,776.4 L1196.3,778.1 L1197.3,779.8 L1198.2,781.6 L1199.2,783.3 L1200.2,785.1 L1201.2,786.8 L1202.2,788.6 L1203.2,790.3 L1204.2,792.0 L1205.2,793.8 L1206.2,795.5 L1207.2,797.2 L1208.2,799.0 L1209.2,800.7 L1210.2,802.4 L1211.2,804.2 L1212.2,805.9 L1213.2,807.6 L1214.2,809.4 L1215.2,811.1 L1216.3,812.8 L1217.3,814.5 L1218.3,816.3 L1219.3,818.0 L1220.3,819.7 L1221.4,821.4 L1222.4,823.1 L1223.4,824.9 L1224.4,826.6 L1225.5,828.3 L1226.5,830.0 L1227.6,831.7 L1228.6,833.4 L1229.6,835.1 L1230.7,836.8 L1231.7,838.5 L1232.8,840.3 L1233.8,842.0 L1234.9,843.7 L1235.9,845.4 L1237.0,847.1 L1238.0,848.8 L1239.1,850.5 L1240.1,852.2 L1241.2,853.9 L1242.3,855.6 L1243.3,857.2 L1244.4,858.9 L1245.5,860.6 L1246.6,862.3 L1247.6,864.0 L1248.7,865.7 L1249.8,867.4 L1250.9,869.1 L1251.9,870.7 L1253.0,872.4 L1254.1,874.1 L1255.2,875.8 L1256.3,877.5 L1257.4,879.1 L1258.5,880.8 L1259.6,882.5 L1260.7,884.1 L1261.8,885.8 L1262.9,887.5 L1264.0,889.2 L1265.1,890.8 L1266.2,892.5 L1267.3,894.1 L1268.4,895.8 L1269.6,897.5 L1270.7,899.1 L1271.8,900.8 L1272.9,902.4 L1274.0,904.1 L1275.2,905.7 L1276.3,907.4 L1277.4,909.0 L1278.6,910.7 L1279.7,912.3 L1280.8,914.0 L1282.0,915.6 L1283.1,917.3 L1284.3,918.9 L1285.4,920.5 L1286.6,922.2 L1287.7,923.8 L1288.9,925.4 L1290.0,927.1 L1291.2,928.7 L1292.3,930.3 L1293.5,932.0 L1294.7,933.6 L1295.8,935.2 L1297.0,936.8 L1298.2,938.4 L1299.4,940.1 L1300.5,941.7 L1301.7,943.3 L1302.9,944.9 L1304.1,946.5 L1305.3,948.1 L1306.5,949.7 L1307.7,951.3 L1308.8,952.9 L1310.0,954.5 L1311.2,956.1 L1312.5,957.7 L1313.7,959.3 L1314.9,960.9 L1316.1,962.5 L1317.3,964.1 L1318.5,965.6 L1319.7,967.2 L1321.0,968.8 L1322.2,970.4 L1323.4,971.9 L1324.7,973.5 L1325.9,975.1 L1327.1,976.6 L1328.4,978.2 L1329.6,979.7 L1330.9,981.3 L1332.2,982.9 L1333.4,984.4 L1334.7,985.9 L1335.9,987.5 L1337.2,989.0 L1338.5,990.6 L1339.8,992.1 L1341.0,993.6 L1342.3,995.2 L1343.6,996.7 L1344.9,998.2 L1346.2,999.7 L1347.5,1001.2 L1348.8,1002.7 L1350.1,1004.2 L1351.4,1005.8 L1352.7,1007.3 L1354.1,1008.7 L1355.4,1010.2 L1356.7,1011.7 L1358.0,1013.2 L1359.4,1014.7 L1360.7,1016.2 L1362.0,1017.7 L1363.4,1019.1 L1364.7,1020.6 L1366.1,1022.1 L1367.5,1023.5 L1368.8,1025.0 L1370.2,1026.4 L1371.6,1027.9 L1372.9,1029.3 L1374.3,1030.8 L1375.7,1032.2 L1377.1,1033.6 L1378.5,1035.0 L1379.9,1036.5 L1381.3,1037.9 L1382.7,1039.3 L1384.1,1040.7 L1385.6,1042.1 L1387.0,1043.5 L1388.4,1044.9 L1389.8,1046.3 L1391.3,1047.7 L1392.7,1049.1 L1394.2,1050.5 L1395.6,1051.8 L1397.1,1053.2 L1398.5,1054.6 L1400.0,1055.9 L1401.5,1057.3 L1403.0,1058.7 L1404.5,1060.0 L1405.9,1061.3 L1407.4,1062.7 L1408.9,1064.0 L1410.4,1065.3 L1411.9,1066.7 L1413.5,1068.0 L1415.0,1069.3 L1416.5,1070.6 L1418.0,1071.9 L1419.6,1073.2 L1421.1,1074.5 L1422.6,1075.8 L1424.2,1077.1 L1425.7,1078.4 L1427.3,1079.6 L1428.8,1080.9 L1430.4,1082.2 L1432.0,1083.4 L1433.5,1084.7 L1435.1,1086.0 L1436.7,1087.2 L1438.2,1088.4 L1439.8,1089.7 L1441.4,1090.9 L1443.0,1092.2 L1444.6,1093.4 L1446.2,1094.6 L1447.8,1095.8 L1449.4,1097.0 L1451.0,1098.2 L1452.6,1099.4 L1454.2,1100.6 L1455.8,1101.8 L1457.4,1103.0 L1459.0,1104.2 L1460.6,1105.4 L1462.2,1106.6 L1463.8,1107.8 L1465.4,1108.9 L1467.1,1110.1 L1468.7,1111.3 L1470.3,1112.4 L1471.9,1113.6 L1473.5,1114.7 L1475.2,1115.9 L1476.8,1117.0 L1478.4,1118.2 L1480.1,1119.3 L1481.7,1120.5 L1483.3,1121.6 L1485.0,1122.7 L1486.6,1123.9 L1488.2,1125.0 L1489.9,1126.1 L1491.5,1127.3 L1493.1,1128.4 L1494.8,1129.5 L1496.4,1130.7 L1498.1,1131.8 L1499.7,1132.9 L1501.3,1134.1 L1503.0,1135.2 L1504.6,1136.3 L1506.3,1137.4 L1507.9,1138.6 L1509.6,1139.7 L1511.2,1140.8 L1512.9,1142.0 L1514.5,1143.1 L1516.2,1144.2 L1517.8,1145.3 L1519.5,1146.5 L1521.1,1147.6 L1522.8,1148.7 L1524.4,1149.9 L1526.1,1151.0 L1527.7,1152.1 L1529.4,1153.2 L1531.1,1154.3 L1532.7,1155.5 L1534.4,1156.6 L1536.0,1157.7 L1537.7,1158.8 L1539.4,1159.9 L1541.0,1161.0 L1542.7,1162.1 L1544.4,1163.2 L1546.1,1164.4 L1547.7,1165.5 L1549.4,1166.6 L1551.1,1167.7 L1552.8,1168.8 L1554.4,1169.9 L1556.1,1170.9 L1557.8,1172.0 L1559.5,1173.1 L1561.2,1174.2 L1562.9,1175.3 L1564.5,1176.4 L1566.2,1177.5 L1567.9,1178.5 L1569.6,1179.6 L1571.3,1180.7 L1573.0,1181.7 L1574.7,1182.8 L1576.4,1183.9 L1578.1,1184.9 L1579.8,1186.0 L1581.5,1187.0 L1583.2,1188.1 L1585.0,1189.1 L1586.7,1190.1 L1588.4,1191.2 L1590.1,1192.2 L1591.8,1193.2 L1593.5,1194.3 L1595.3,1195.3 L1597.0,1196.3 L1598.7,1197.3 L1600.5,1198.3 L1602.2,1199.3 L1603.9,1200.3 L1605.7,1201.3 L1607.4,1202.3 L1609.1,1203.3 L1610.9,1204.2 L1612.6,1205.2 L1614.4,1206.2 L1616.1,1207.1 L1617.9,1208.1 L1619.6,1209.1 L1621.4,1210.0 L1623.2,1210.9 L1624.9,1211.9 L1626.7,1212.8 L1628.5,1213.7 L1630.2,1214.7 L1632.0,1215.6 L1633.8,1216.5 L1635.6,1217.4 L1637.4,1218.3 L1639.1,1219.2 L1640.9,1220.1 L1642.7,1220.9 L1644.5,1221.8 L1646.3,1222.7 L1648.1,1223.5 L1649.9,1224.4 L1651.7,1225.2 L1653.5,1226.1 L1655.4,1226.9 L1657.2,1227.7 L1659.0,1228.6 L1660.8,1229.4 L1662.6,1230.2 L1664.5,1231.0 L1666.3,1231.8 L1668.1,1232.6 L1670.0,1233.3 L1671.8,1234.1 L1673.7,1234.9 L1675.5,1235.6 L1677.4,1236.4 L1679.2,1237.1 L1681.1,1237.8 L1682.9,1238.6 L1684.8,1239.3 L1686.7,1240.0 L1688.5,1240.7 L1690.4,1241.4 L1692.3,1242.1 L1694.2,1242.8 L1696.0,1243.5 L1697.9,1244.1 L1699.8,1244.8 L1701.7,1245.5 L1703.6,1246.1 L1705.5,1246.8 L1707.4,1247.4 L1709.3,1248.0 L1711.2,1248.7 L1713.1,1249.3 L1715.0,1249.9 L1716.9,1250.5 L1718.8,1251.1 L1720.7,1251.7 L1722.6,1252.3 L1724.5,1252.9 L1726.5,1253.5 L1728.4,1254.0 L1730.3,1254.6 L1732.2,1255.2 L1734.1,1255.7 L1736.1,1256.3 L1738.0,1256.8 L1739.9,1257.4 L1741.8,1257.9 L1743.8,1258.4 L1745.7,1259.0 L1747.6,1259.5 L1749.6,1260.0 L1751.5,1260.5 L1753.4,1261.0 L1755.4,1261.5 L1757.3,1262.0 L1759.3,1262.5 L1761.2,1263.0 L1763.1,1263.5 L1765.1,1264.0 L1767.0,1264.4 L1769.0,1264.9 L1770.9,1265.4 L1772.9,1265.8 L1774.8,1266.3 L1776.8,1266.8 L1778.7,1267.2 L1780.7,1267.6 L1782.6,1268.1 L1784.6,1268.5 L1786.5,1268.9 L1788.5,1269.4 L1790.4,1269.8 L1792.4,1270.2 L1794.3,1270.6 L1796.3,1271.0 L1798.2,1271.4 L1800.2,1271.8 L1802.2,1272.2 L1804.1,1272.6 L1806.1,1273.0 L1808.0,1273.4 L1810.0,1273.8 L1812.0,1274.1 L1813.9,1274.5 L1815.9,1274.9 L1817.9,1275.2 L1819.8,1275.6 L1821.8,1275.9 L1823.8,1276.3 L1825.7,1276.6 L1827.7,1277.0 L1829.7,1277.3 L1831.7,1277.6 L1833.6,1277.9 L1835.6,1278.3 L1837.6,1278.6 L1839.5,1278.9 L1841.5,1279.2 L1843.5,1279.5 L1845.5,1279.8 L1847.5,1280.1 L1849.4,1280.4 L1851.4,1280.7 L1853.4,1281.0 L1855.4,1281.3 L1857.3,1281.5 L1859.3,1281.8 L1861.3,1282.1 L1863.3,1282.4 L1865.3,1282.6 L1867.3,1282.9 L1869.2,1283.1 L1871.2,1283.4 L1873.2,1283.6 L1875.2,1283.9 L1877.2,1284.1 L1879.2,1284.3 L1881.2,1284.6 L1883.1,1284.8 L1885.1,1285.0 L1887.1,1285.2 L1889.1,1285.5 L1891.1,1285.7 L1893.1,1285.9 L1895.1,1286.1 L1897.1,1286.3 L1899.1,1286.5 L1901.0,1286.7 L1903.0,1286.9 L1905.0,1287.0 L1907.0,1287.2 L1909.0,1287.4 L1911.0,1287.6 L1913.0,1287.8 L1915.0,1287.9 L1917.0,1288.1 L1919.0,1288.2 L1921.0,1288.4 L1923.0,1288.6 L1925.0,1288.7 L1927.0,1288.9 L1929.0,1289.0 L1931.0,1289.1 L1933.0,1289.3 L1935.0,1289.4 L1937.0,1289.5 L1939.0,1289.7 L1941.0,1289.8 L1943.0,1289.9 L1945.0,1290.0 L1947.0,1290.1 L1948.9,1290.3 L1950.9,1290.4 L1952.9,1290.5 L1954.9,1290.6 L1956.9,1290.7 L1958.9,1290.8 L1960.9,1290.8 L1963.0,1290.9 L1965.0,1291.0 L1967.0,1291.1 L1969.0,1291.2 L1971.0,1291.2 L1973.0,1291.3 L1975.0,1291.4 L1977.0,1291.5 L1979.0,1291.5 L1981.0,1291.6 L1983.0,1291.6 L1985.0,1291.7 L1987.0,1291.7 L1989.0,1291.8 L1991.0,1291.8 L1993.0,1291.9 L1995.0,1291.9 L1997.0,1291.9 L1999.0,1292.0 L2001.0,1292.0 L2003.0,1292.0 L2005.0,1292.0 L2007.0,1292.1 L2009.0,1292.1 L2011.0,1292.1 L2013.0,1292.1 L2015.0,1292.1 L2017.0,1292.1 L2019.0,1292.1 L2021.0,1292.1 L2023.0,1292.1 L2025.0,1292.1 L2027.0,1292.1 L2029.0,1292.1 L2031.0,1292.1 L2033.0,1292.1 L2035.0,1292.0 L2037.0,1292.0 L2039.0,1292.0 L2041.0,1292.0 L2043.0,1291.9 L2045.0,1291.9 L2047.0,1291.9 L2049.0,1291.8 L2051.0,1291.8 L2053.0,1291.7 L2055.0,1291.7 L2057.0,1291.7 L2059.0,1291.6 L2061.0,1291.6 L2063.0,1291.5 L2065.0,1291.4 L2067.0,1291.4 L2069.0,1291.3 L2071.0,1291.2 L2073.0,1291.2 L2075.0,1291.1 L2077.0,1291.0"/>
<path clip-path="url(#cb)" stroke="#00B0F0" d="M274.0,269.6 L274.6,271.5 L275.1,273.4 L275.7,275.3 L276.3,277.2 L276.9,279.1 L277.5,281.0 L278.1,282.9 L278.7,284.8 L279.3,286.7 L279.9,288.6 L280.5,290.5 L281.1,292.4 L281.7,294.3 L282.3,296.2 L283.0,298.1 L283.6,300.0 L284.2,301.9 L284.8,303.7 L285.4,305.6 L286.0,307.5 L286.7,309.4 L287.3,311.3 L287.9,313.2 L288.5,315.1 L289.1,317.0 L289.8,318.9 L290.4,320.8 L291.0,322.7 L291.6,324.6 L292.3,326.5 L292.9,328.4 L293.5,330.3 L294.1,332.2 L294.8,334.1 L295.4,336.0 L296.0,337.9 L296.6,339.8 L297.2,341.7 L297.9,343.7 L298.5,345.6 L299.1,347.5 L299.7,349.4 L300.3,351.3 L301.0,353.2 L301.6,355.1 L302.2,357.0 L302.8,358.9 L303.4,360.8 L304.0,362.7 L304.6,364.6 L305.2,366.5 L305.8,368.4 L306.4,370.4 L307.0,372.3 L307.6,374.2 L308.2,376.1 L308.8,378.0 L309.4,379.9 L310.0,381.8 L310.5,383.8 L311.1,385.7 L311.7,387.6 L312.3,389.5 L312.8,391.4 L313.4,393.3 L314.0,395.3 L314.5,397.2 L315.1,399.1 L315.6,401.0 L316.2,403.0 L316.7,404.9 L317.3,406.8 L317.8,408.7 L318.3,410.7 L318.9,412.6 L319.4,414.5 L319.9,416.4 L320.4,418.4 L320.9,420.3 L321.4,422.2 L321.9,424.2 L322.4,426.1 L322.9,428.0 L323.4,430.0 L323.9,431.9 L324.4,433.8 L324.8,435.8 L325.3,437.7 L325.8,439.7 L326.2,441.6 L326.7,443.5 L327.1,445.5 L327.6,447.4 L328.0,449.4 L328.5,451.3 L328.9,453.3 L329.3,455.2 L329.8,457.2 L330.2,459.1 L330.6,461.0 L331.0,463.0 L331.4,464.9 L331.9,466.9 L332.3,468.8 L332.7,470.8 L333.1,472.8 L333.5,474.7 L333.9,476.7 L334.3,478.6 L334.7,480.6 L335.1,482.5 L335.4,484.5 L335.8,486.4 L336.2,488.4 L336.6,490.3 L337.0,492.3 L337.3,494.3 L337.7,496.2 L338.1,498.2 L338.5,500.1 L338.8,502.1 L339.2,504.1 L339.6,506.0 L339.9,508.0 L340.3,510.0 L340.6,511.9 L341.0,513.9 L341.3,515.8 L341.7,517.8 L342.0,519.8 L342.4,521.7 L342.7,523.7 L343.1,525.7 L343.4,527.6 L343.8,529.6 L344.1,531.6 L344.5,533.5 L344.8,535.5 L345.1,537.5 L345.5,539.4 L345.8,541.4 L346.2,543.4 L346.5,545.4 L346.8,547.3 L347.2,549.3 L347.5,551.3 L347.8,553.2 L348.2,555.2 L348.5,557.2 L348.8,559.1 L349.2,561.1 L349.5,563.1 L349.9,565.1 L350.2,567.0 L350.5,569.0 L350.9,571.0 L351.2,573.0 L351.5,574.9 L351.9,576.9 L352.2,578.9 L352.5,580.8 L352.9,582.8 L353.2,584.8 L353.6,586.8 L353.9,588.7 L354.2,590.7 L354.6,592.7 L354.9,594.7 L355.3,596.6 L355.6,598.6 L356.0,600.6 L356.3,602.6 L356.7,604.5 L357.0,606.5 L357.4,608.5 L357.7,610.5 L358.1,612.4 L358.4,614.4 L358.8,616.4 L359.1,618.4 L359.5,620.3 L359.9,622.3 L360.2,624.3 L360.6,626.3 L361.0,628.2 L361.3,630.2 L361.7,632.2 L362.1,634.2 L362.5,636.1 L362.9,638.1 L363.2,640.1 L363.6,642.1 L364.0,644.0 L364.4,646.0 L364.8,648.0 L365.2,649.9 L365.6,651.9 L366.0,653.9 L366.4,655.9 L366.8,657.8 L367.2,659.8 L367.7,661.8 L368.1,663.7 L368.5,665.7 L368.9,667.7 L369.4,669.7 L369.8,671.6 L370.2,673.6 L370.7,675.5 L371.1,677.5 L371.6,679.5 L372.1,681.4 L372.5,683.4 L373.0,685.3 L373.5,687.3 L374.0,689.2 L374.5,691.2 L375.0,693.1 L375.5,695.1 L376.1,697.0 L376.6,698.9 L377.1,700.9 L377.7,702.8 L378.2,704.7 L378.8,706.6 L379.4,708.6 L380.0,710.5 L380.6,712.4 L381.2,714.3 L381.8,716.2 L382.5,718.1 L383.1,720.0 L383.8,721.8 L384.4,723.7 L385.1,725.6 L385.8,727.5 L386.5,729.3 L387.2,731.2 L388.0,733.0 L388.7,734.9 L389.5,736.7 L390.2,738.5 L391.0,740.4 L391.8,742.2 L392.6,744.0 L393.5,745.8 L394.3,747.6 L395.2,749.4 L396.1,751.2 L397.0,752.9 L397.9,754.7 L398.8,756.5 L399.8,758.2 L400.7,760.0 L401.7,761.7 L402.7,763.4 L403.7,765.2 L404.7,766.9 L405.8,768.6 L406.9,770.3 L408.0,771.9 L409.1,773.6 L410.2,775.3 L411.3,776.9 L412.5,778.6 L413.7,780.2 L415.0,781.7 L416.2,783.1 L417.6,784.4 L419.0,785.5 L420.5,786.5 L422.0,787.2 L423.6,787.8 L425.4,788.0 L427.2,788.0 L429.1,787.8 L431.0,787.3 L433.0,786.7 L435.0,785.8 L436.9,784.9 L438.8,783.9 L440.7,782.8 L442.5,781.7 L444.2,780.6 L445.9,779.4 L447.6,778.2 L449.3,776.9 L450.9,775.7 L452.5,774.4 L454.1,773.1 L455.7,771.9 L457.2,770.6 L458.8,769.2 L460.3,767.9 L461.8,766.6 L463.3,765.2 L464.8,763.9 L466.3,762.5 L467.7,761.1 L469.2,759.7 L470.6,758.3 L472.0,756.9 L473.4,755.5 L474.8,754.0 L476.2,752.6 L477.6,751.1 L478.9,749.6 L480.3,748.2 L481.6,746.7 L482.9,745.2 L484.2,743.7 L485.5,742.1 L486.8,740.6 L488.0,739.1 L489.3,737.5 L490.5,736.0 L491.8,734.4 L493.0,732.8 L494.2,731.3 L495.4,729.7 L496.6,728.1 L497.8,726.5 L499.0,724.9 L500.1,723.2 L501.3,721.6 L502.4,720.0 L503.5,718.3 L504.7,716.7 L505.8,715.0 L506.9,713.4 L508.0,711.7 L509.1,710.1 L510.2,708.4 L511.3,706.7 L512.3,705.0 L513.4,703.3 L514.4,701.6 L515.5,699.9 L516.5,698.2 L517.6,696.5 L518.6,694.8 L519.6,693.1 L520.6,691.3 L521.6,689.6 L522.6,687.9 L523.6,686.1 L524.6,684.4 L525.6,682.7 L526.6,680.9 L527.6,679.2 L528.5,677.4 L529.5,675.7 L530.5,673.9 L531.4,672.2 L532.4,670.4 L533.3,668.6 L534.3,666.9 L535.2,665.1 L536.2,663.4 L537.1,661.6 L538.0,659.8 L539.0,658.0 L539.9,656.3 L540.8,654.5 L541.7,652.7 L542.6,650.9 L543.6,649.2 L544.5,647.4 L545.4,645.6 L546.3,643.8 L547.2,642.0 L548.1,640.2 L549.0,638.5 L549.9,636.7 L550.8,634.9 L551.6,633.1 L552.5,631.3 L553.4,629.5 L554.3,627.7 L555.2,625.9 L556.0,624.1 L556.9,622.3 L557.8,620.5 L558.6,618.7 L559.5,616.9 L560.4,615.1 L561.2,613.3 L562.1,611.5 L562.9,609.7 L563.8,607.9 L564.7,606.1 L565.5,604.3 L566.4,602.4 L567.2,600.6 L568.0,598.8 L568.9,597.0 L569.7,595.2 L570.6,593.4 L571.4,591.6 L572.3,589.7 L573.1,587.9 L573.9,586.1 L574.8,584.3 L575.6,582.5 L576.4,580.7 L577.3,578.8 L578.1,577.0 L578.9,575.2 L579.8,573.4 L580.6,571.6 L581.4,569.7 L582.2,567.9 L583.1,566.1 L583.9,564.3 L584.7,562.4 L585.5,560.6 L586.4,558.8 L587.2,557.0 L588.0,555.2 L588.8,553.3 L589.7,551.5 L590.5,549.7 L591.3,547.9 L592.1,546.0 L592.9,544.2 L593.8,542.4 L594.6,540.6 L595.4,538.7 L596.2,536.9 L597.1,535.1 L597.9,533.3 L598.7,531.4 L599.5,529.6 L600.4,527.8 L601.2,526.0 L602.0,524.2 L602.8,522.3 L603.7,520.5 L604.5,518.7 L605.3,516.9 L606.2,515.1 L607.0,513.2 L607.8,511.4 L608.7,509.6 L609.5,507.8 L610.3,506.0 L611.2,504.1 L612.0,502.3 L612.9,500.5 L613.7,498.7 L614.5,496.9 L615.4,495.1 L616.2,493.3 L617.1,491.4 L617.9,489.6 L618.8,487.8 L619.6,486.0 L620.5,484.2 L621.3,482.4 L622.2,480.6 L623.1,478.8 L623.9,477.0 L624.8,475.2 L625.7,473.4 L626.5,471.6 L627.4,469.8 L628.3,468.0 L629.2,466.2 L630.0,464.4 L630.9,462.6 L631.8,460.8 L632.7,459.0 L633.6,457.2 L634.5,455.4 L635.4,453.6 L636.3,451.8 L637.2,450.1 L638.1,448.3 L639.0,446.5 L639.9,444.7 L640.8,442.9 L641.7,441.2 L642.7,439.4 L643.6,437.6 L644.5,435.8 L645.4,434.1 L646.4,432.3 L647.3,430.5 L648.3,428.8 L649.2,427.0 L650.2,425.3 L651.1,423.5 L652.1,421.8 L653.0,420.0 L654.0,418.3 L655.0,416.5 L655.9,414.8 L656.9,413.0 L657.9,411.3 L658.9,409.6 L659.9,407.8 L660.9,406.1 L661.9,404.4 L662.9,402.7 L663.9,401.0 L664.9,399.3 L665.9,397.5 L666.9,395.8 L667.9,394.1 L669.0,392.4 L670.0,390.7 L671.0,389.0 L672.1,387.4 L673.1,385.7 L674.2,384.0 L675.3,382.3 L676.3,380.6 L677.4,379.0 L678.5,377.3 L679.5,375.6 L680.6,374.0 L681.7,372.3 L682.8,370.7 L683.9,369.0 L685.0,367.4 L686.1,365.7 L687.2,364.1 L688.3,362.5 L689.5,360.8 L690.6,359.2 L691.7,357.5 L692.8,355.9 L693.9,354.2 L695.1,352.6 L696.2,351.0 L697.3,349.3 L698.4,347.7 L699.6,346.0 L700.7,344.4 L701.8,342.7 L702.9,341.1 L704.1,339.4 L705.2,337.8 L706.3,336.1 L707.4,334.4 L708.5,332.7 L709.7,331.1 L710.8,329.4 L711.9,327.7 L713.0,326.0 L714.1,324.3 L715.2,322.6 L716.3,320.9 L717.4,319.2 L718.6,317.5 L719.7,315.8 L720.8,314.2 L721.9,312.5 L723.0,310.8 L724.2,309.1 L725.3,307.4 L726.4,305.7 L727.6,304.0 L728.7,302.3 L729.8,300.7 L731.0,299.0 L732.2,297.3 L733.3,295.7 L734.5,294.0 L735.7,292.4 L736.9,290.8 L738.1,289.1 L739.3,287.5 L740.5,285.9 L741.7,284.3 L742.9,282.8 L744.2,281.2 L745.4,279.6 L746.7,278.1 L748.0,276.5 L749.2,275.0 L750.5,273.5 L751.8,272.0 L753.2,270.5 L754.5,269.1 L755.9,267.6 L757.2,266.2 L758.6,264.8 L760.0,263.4 L761.4,262.0 L762.8,260.7 L764.3,259.3 L765.7,258.0 L767.2,256.7 L768.7,255.4 L770.2,254.2 L771.7,252.9 L773.3,251.7 L774.8,250.5 L776.4,249.4 L778.0,248.2 L779.7,247.1 L781.3,246.0 L783.0,245.0 L784.7,243.9 L786.3,242.9 L788.1,241.9 L789.8,240.9 L791.5,240.0 L793.3,239.1 L795.1,238.2 L796.9,237.3 L798.7,236.4 L800.5,235.6 L802.3,234.8 L804.2,234.0 L806.1,233.3 L807.9,232.6 L809.8,231.9 L811.7,231.2 L813.6,230.6 L815.5,229.9 L817.5,229.3 L819.4,228.8 L821.3,228.2 L823.3,227.7 L825.3,227.2 L827.2,226.7 L829.2,226.3 L831.2,225.8 L833.2,225.5 L835.2,225.1 L837.2,224.7 L839.2,224.4 L841.2,224.1 L843.2,223.9 L845.2,223.6 L847.2,223.4 L849.2,223.2 L851.3,223.0 L853.3,222.9 L855.3,222.8 L857.3,222.7 L859.4,222.6 L861.4,222.6 L863.4,222.6 L865.4,222.6 L867.4,222.7 L869.5,222.7 L871.5,222.8 L873.5,222.9 L875.5,223.1 L877.5,223.3 L879.5,223.5 L881.5,223.7 L883.5,223.9 L885.5,224.2 L887.4,224.5 L889.4,224.9 L891.4,225.2 L893.3,225.6 L895.3,226.0 L897.2,226.5 L899.2,226.9 L901.1,227.4 L903.0,228.0 L904.9,228.5 L906.8,229.1 L908.6,229.7 L910.5,230.3 L912.4,231.0 L914.2,231.7 L916.0,232.4 L917.8,233.1 L919.7,233.9 L921.4,234.7 L923.2,235.5 L925.0,236.3 L926.8,237.2 L928.5,238.1 L930.2,239.0 L932.0,239.9 L933.7,240.9 L935.4,241.8 L937.1,242.8 L938.7,243.9 L940.4,244.9 L942.1,246.0 L943.7,247.0 L945.3,248.1 L947.0,249.3 L948.6,250.4 L950.2,251.6 L951.8,252.8 L953.3,253.9 L954.9,255.2 L956.5,256.4 L958.0,257.6 L959.6,258.9 L961.1,260.2 L962.6,261.5 L964.1,262.8 L965.6,264.1 L967.1,265.5 L968.6,266.9 L970.1,268.2 L971.5,269.6 L973.0,271.0 L974.4,272.4 L975.9,273.9 L977.3,275.3 L978.7,276.7 L980.1,278.2 L981.5,279.7 L982.9,281.2 L984.3,282.7 L985.7,284.2 L987.0,285.7 L988.4,287.2 L989.7,288.7 L991.1,290.3 L992.4,291.8 L993.7,293.4 L995.0,295.0 L996.3,296.5 L997.6,298.1 L998.9,299.7 L1000.2,301.3 L1001.5,302.9 L1002.8,304.5 L1004.0,306.1 L1005.3,307.7 L1006.5,309.3 L1007.8,310.9 L1009.0,312.6 L1010.2,314.2 L1011.4,315.8 L1012.6,317.4 L1013.8,319.1 L1015.0,320.7 L1016.2,322.4 L1017.4,324.0 L1018.6,325.6 L1019.7,327.3 L1020.9,328.9 L1022.1,330.6 L1023.2,332.2 L1024.4,333.9 L1025.5,335.6 L1026.6,337.2 L1027.8,338.9 L1028.9,340.6 L1030.0,342.2 L1031.1,343.9 L1032.2,345.6 L1033.3,347.2 L1034.4,348.9 L1035.5,350.6 L1036.6,352.3 L1037.6,354.0 L1038.7,355.7 L1039.8,357.3 L1040.8,359.0 L1041.9,360.7 L1042.9,362.4 L1044.0,364.1 L1045.0,365.8 L1046.1,367.5 L1047.1,369.2 L1048.1,370.9 L1049.2,372.6 L1050.2,374.3 L1051.2,376.0 L1052.2,377.8 L1053.2,379.5 L1054.2,381.2 L1055.2,382.9 L1056.2,384.6 L1057.2,386.3 L1058.2,388.1 L1059.2,389.8 L1060.2,391.5 L1061.2,393.2 L1062.2,395.0 L1063.1,396.7 L1064.1,398.4 L1065.1,400.2 L1066.0,401.9 L1067.0,403.6 L1068.0,405.4 L1068.9,407.1 L1069.9,408.9 L1070.8,410.6 L1071.8,412.3 L1072.7,414.1 L1073.7,415.8 L1074.6,417.6 L1075.6,419.3 L1076.5,421.1 L1077.5,422.8 L1078.4,424.6 L1079.3,426.3 L1080.3,428.1 L1081.2,429.8 L1082.1,431.6 L1083.1,433.3 L1084.0,435.1 L1084.9,436.8 L1085.9,438.6 L1086.8,440.4 L1087.7,442.1 L1088.6,443.9 L1089.6,445.6 L1090.5,447.4 L1091.4,449.2 L1092.3,450.9 L1093.3,452.7 L1094.2,454.5 L1095.1,456.2 L1096.0,458.0 L1096.9,459.8 L1097.9,461.5 L1098.8,463.3 L1099.7,465.1 L1100.6,466.8 L1101.5,468.6 L1102.4,470.4 L1103.3,472.2 L1104.3,473.9 L1105.2,475.7 L1106.1,477.5 L1107.0,479.2 L1107.9,481.0 L1108.8,482.8 L1109.7,484.6 L1110.6,486.3 L1111.5,488.1 L1112.4,489.9 L1113.3,491.7 L1114.2,493.5 L1115.1,495.2 L1116.1,497.0 L1117.0,498.8 L1117.9,500.6 L1118.8,502.4 L1119.7,504.1 L1120.6,505.9 L1121.5,507.7 L1122.4,509.5 L1123.3,511.3 L1124.2,513.1 L1125.1,514.8 L1126.0,516.6 L1126.9,518.4 L1127.8,520.2 L1128.7,522.0 L1129.6,523.8 L1130.5,525.6 L1131.4,527.3 L1132.3,529.1 L1133.2,530.9 L1134.1,532.7 L1135.0,534.5 L1135.9,536.3 L1136.8,538.1 L1137.7,539.9 L1138.6,541.6 L1139.5,543.4 L1140.3,545.2 L1141.2,547.0 L1142.1,548.8 L1143.0,550.6 L1143.9,552.4 L1144.8,554.2 L1145.7,555.9 L1146.6,557.7 L1147.5,559.5 L1148.4,561.3 L1149.3,563.1 L1150.2,564.9 L1151.1,566.7 L1152.0,568.5 L1152.9,570.3 L1153.8,572.1 L1154.7,573.8 L1155.6,575.6 L1156.5,577.4 L1157.4,579.2 L1158.3,581.0 L1159.2,582.8 L1160.1,584.6 L1161.0,586.4 L1161.9,588.2 L1162.8,589.9 L1163.7,591.7 L1164.6,593.5 L1165.5,595.3 L1166.5,597.1 L1167.4,598.9 L1168.3,600.7 L1169.2,602.5 L1170.1,604.2 L1171.0,606.0 L1171.9,607.8 L1172.8,609.6 L1173.7,611.4 L1174.6,613.2 L1175.5,615.0 L1176.4,616.7 L1177.3,618.5 L1178.3,620.3 L1179.2,622.1 L1180.1,623.9 L1181.0,625.7 L1181.9,627.4 L1182.8,629.2 L1183.8,631.0 L1184.7,632.8 L1185.6,634.6 L1186.5,636.3 L1187.4,638.1 L1188.3,639.9 L1189.3,641.7 L1190.2,643.5 L1191.1,645.2 L1192.0,647.0 L1193.0,648.8 L1193.9,650.6 L1194.8,652.3 L1195.8,654.1 L1196.7,655.9 L1197.6,657.7 L1198.5,659.4 L1199.5,661.2 L1200.4,663.0 L1201.3,664.8 L1202.3,666.5 L1203.2,668.3 L1204.2,670.1 L1205.1,671.8 L1206.0,673.6 L1207.0,675.4 L1207.9,677.1 L1208.9,678.9 L1209.8,680.7 L1210.8,682.4 L1211.7,684.2 L1212.7,686.0 L1213.6,687.7 L1214.6,689.5 L1215.5,691.2 L1216.5,693.0 L1217.4,694.8 L1218.4,696.5 L1219.3,698.3 L1220.3,700.0 L1221.3,701.8 L1222.2,703.5 L1223.2,705.3 L1224.2,707.0 L1225.1,708.8 L1226.1,710.5 L1227.1,712.3 L1228.1,714.0 L1229.0,715.8 L1230.0,717.5 L1231.0,719.3 L1232.0,721.0 L1232.9,722.8 L1233.9,724.5 L1234.9,726.2 L1235.9,728.0 L1236.9,729.7 L1237.9,731.5 L1238.9,733.2 L1239.9,734.9 L1240.9,736.7 L1241.8,738.4 L1242.8,740.1 L1243.8,741.9 L1244.8,743.6 L1245.8,745.3 L1246.9,747.1 L1247.9,748.8 L1248.9,750.5 L1249.9,752.2 L1250.9,754.0 L1251.9,755.7 L1252.9,757.4 L1253.9,759.1 L1254.9,760.9 L1256.0,762.6 L1257.0,764.3 L1258.0,766.0 L1259.0,767.7 L1260.1,769.4 L1261.1,771.1 L1262.1,772.9 L1263.2,774.6 L1264.2,776.3 L1265.2,778.0 L1266.3,779.7 L1267.3,781.4 L1268.4,783.1 L1269.4,784.8 L1270.4,786.5 L1271.5,788.2 L1272.5,789.9 L1273.6,791.6 L1274.6,793.3 L1275.7,795.0 L1276.8,796.7 L1277.8,798.4 L1278.9,800.1 L1279.9,801.8 L1281.0,803.4 L1282.1,805.1 L1283.1,806.8 L1284.2,808.5 L1285.3,810.2 L1286.4,811.9 L1287.4,813.6 L1288.5,815.2 L1289.6,816.9 L1290.7,818.6 L1291.8,820.3 L1292.9,821.9 L1293.9,823.6 L1295.0,825.3 L1296.1,826.9 L1297.2,828.6 L1298.3,830.3 L1299.4,831.9 L1300.5,833.6 L1301.6,835.3 L1302.7,836.9 L1303.8,838.6 L1305.0,840.2 L1306.1,841.9 L1307.2,843.6 L1308.3,845.2 L1309.4,846.9 L1310.5,848.5 L1311.7,850.2 L1312.8,851.8 L1313.9,853.5 L1315.0,855.1 L1316.2,856.7 L1317.3,858.4 L1318.4,860.0 L1319.6,861.7 L1320.7,863.3 L1321.9,864.9 L1323.0,866.6 L1324.2,868.2 L1325.3,869.8 L1326.5,871.5 L1327.6,873.1 L1328.8,874.7 L1329.9,876.3 L1331.1,878.0 L1332.3,879.6 L1333.4,881.2 L1334.6,882.8 L1335.8,884.4 L1336.9,886.0 L1338.1,887.7 L1339.3,889.3 L1340.5,890.9 L1341.7,892.5 L1342.8,894.1 L1344.0,895.7 L1345.2,897.3 L1346.4,898.9 L1347.6,900.5 L1348.8,902.1 L1350.0,903.7 L1351.2,905.3 L1352.4,906.9 L1353.6,908.5 L1354.8,910.1 L1356.0,911.6 L1357.3,913.2 L1358.5,914.8 L1359.7,916.4 L1360.9,918.0 L1362.1,919.5 L1363.4,921.1 L1364.6,922.7 L1365.8,924.3 L1367.1,925.8 L1368.3,927.4 L1369.5,929.0 L1370.8,930.5 L1372.0,932.1 L1373.3,933.7 L1374.5,935.2 L1375.8,936.8 L1377.0,938.3 L1378.3,939.9 L1379.5,941.4 L1380.8,943.0 L1382.1,944.5 L1383.3,946.1 L1384.6,947.6 L1385.9,949.2 L1387.1,950.7 L1388.4,952.3 L1389.7,953.8 L1391.0,955.3 L1392.3,956.9 L1393.5,958.4 L1394.8,959.9 L1396.1,961.5 L1397.4,963.0 L1398.7,964.5 L1400.0,966.1 L1401.3,967.6 L1402.6,969.1 L1403.9,970.6 L1405.2,972.1 L1406.5,973.7 L1407.8,975.2 L1409.1,976.7 L1410.4,978.2 L1411.7,979.7 L1413.0,981.2 L1414.4,982.7 L1415.7,984.2 L1417.0,985.7 L1418.3,987.3 L1419.6,988.8 L1421.0,990.3 L1422.3,991.8 L1423.6,993.2 L1425.0,994.7 L1426.3,996.2 L1427.6,997.7 L1429.0,999.2 L1430.3,1000.7 L1431.6,1002.2 L1433.0,1003.7 L1434.3,1005.2 L1435.7,1006.6 L1437.0,1008.1 L1438.4,1009.6 L1439.7,1011.1 L1441.1,1012.6 L1442.4,1014.0 L1443.8,1015.5 L1445.2,1017.0 L1446.5,1018.5 L1447.9,1019.9 L1449.2,1021.4 L1450.6,1022.9 L1452.0,1024.3 L1453.3,1025.8 L1454.7,1027.2 L1456.1,1028.7 L1457.5,1030.2 L1458.8,1031.6 L1460.2,1033.1 L1461.6,1034.5 L1463.0,1036.0 L1464.4,1037.4 L1465.7,1038.9 L1467.1,1040.3 L1468.5,1041.8 L1469.9,1043.2 L1471.3,1044.7 L1472.7,1046.1 L1474.1,1047.6 L1475.5,1049.0 L1476.9,1050.4 L1478.3,1051.9 L1479.7,1053.3 L1481.1,1054.7 L1482.5,1056.2 L1483.9,1057.6 L1485.3,1059.0 L1486.7,1060.5 L1488.1,1061.9 L1489.5,1063.3 L1490.9,1064.7 L1492.3,1066.2 L1493.7,1067.6 L1495.1,1069.0 L1496.5,1070.4 L1498.0,1071.8 L1499.4,1073.3 L1500.8,1074.7 L1502.2,1076.1 L1503.6,1077.5 L1505.1,1078.9 L1506.5,1080.3 L1507.9,1081.7 L1509.3,1083.1 L1510.8,1084.5 L1512.2,1085.9 L1513.6,1087.3 L1515.1,1088.7 L1516.5,1090.1 L1517.9,1091.5 L1519.4,1092.9 L1520.8,1094.3 L1522.2,1095.7 L1523.7,1097.1 L1525.1,1098.5 L1526.6,1099.8 L1528.0,1101.2 L1529.5,1102.6 L1530.9,1104.0 L1532.4,1105.4 L1533.8,1106.7 L1535.3,1108.1 L1536.7,1109.5 L1538.2,1110.8 L1539.7,1112.2 L1541.1,1113.5 L1542.6,1114.9 L1544.1,1116.2 L1545.6,1117.6 L1547.0,1118.9 L1548.5,1120.3 L1550.0,1121.6 L1551.5,1123.0 L1553.0,1124.3 L1554.4,1125.6 L1555.9,1127.0 L1557.4,1128.3 L1558.9,1129.6 L1560.4,1130.9 L1561.9,1132.2 L1563.4,1133.6 L1564.9,1134.9 L1566.4,1136.2 L1568.0,1137.5 L1569.5,1138.8 L1571.0,1140.1 L1572.5,1141.4 L1574.0,1142.6 L1575.6,1143.9 L1577.1,1145.2 L1578.6,1146.5 L1580.2,1147.8 L1581.7,1149.0 L1583.2,1150.3 L1584.8,1151.5 L1586.3,1152.8 L1587.9,1154.0 L1589.4,1155.3 L1591.0,1156.5 L1592.6,1157.8 L1594.1,1159.0 L1595.7,1160.2 L1597.3,1161.5 L1598.8,1162.7 L1600.4,1163.9 L1602.0,1165.1 L1603.6,1166.3 L1605.2,1167.5 L1606.8,1168.7 L1608.4,1169.9 L1610.0,1171.1 L1611.6,1172.3 L1613.2,1173.5 L1614.8,1174.6 L1616.4,1175.8 L1618.0,1177.0 L1619.6,1178.1 L1621.3,1179.3 L1622.9,1180.4 L1624.5,1181.6 L1626.2,1182.7 L1627.8,1183.8 L1629.5,1184.9 L1631.1,1186.1 L1632.8,1187.2 L1634.4,1188.3 L1636.1,1189.4 L1637.8,1190.5 L1639.4,1191.6 L1641.1,1192.7 L1642.8,1193.8 L1644.5,1194.8 L1646.2,1195.9 L1647.9,1197.0 L1649.5,1198.0 L1651.2,1199.1 L1652.9,1200.1 L1654.6,1201.2 L1656.4,1202.2 L1658.1,1203.3 L1659.8,1204.3 L1661.5,1205.3 L1663.2,1206.3 L1664.9,1207.4 L1666.7,1208.4 L1668.4,1209.4 L1670.1,1210.4 L1671.9,1211.4 L1673.6,1212.4 L1675.3,1213.3 L1677.1,1214.3 L1678.8,1215.3 L1680.6,1216.3 L1682.3,1217.2 L1684.1,1218.2 L1685.9,1219.1 L1687.6,1220.1 L1689.4,1221.0 L1691.2,1222.0 L1692.9,1222.9 L1694.7,1223.8 L1696.5,1224.7 L1698.2,1225.7 L1700.0,1226.6 L1701.8,1227.5 L1703.6,1228.4 L1705.4,1229.3 L1707.2,1230.2 L1709.0,1231.1 L1710.8,1231.9 L1712.5,1232.8 L1714.3,1233.7 L1716.1,1234.6 L1718.0,1235.4 L1719.8,1236.3 L1721.6,1237.1 L1723.4,1238.0 L1725.2,1238.8 L1727.0,1239.6 L1728.8,1240.5 L1730.6,1241.3 L1732.5,1242.1 L1734.3,1242.9 L1736.1,1243.7 L1737.9,1244.5 L1739.8,1245.3 L1741.6,1246.0 L1743.5,1246.8 L1745.3,1247.5 L1747.1,1248.3 L1749.0,1249.0 L1750.9,1249.7 L1752.7,1250.4 L1754.6,1251.1 L1756.5,1251.8 L1758.3,1252.5 L1760.2,1253.1 L1762.1,1253.7 L1764.0,1254.4 L1765.9,1255.0 L1767.8,1255.6 L1769.7,1256.2 L1771.6,1256.7 L1773.5,1257.3 L1775.4,1257.8 L1777.4,1258.3 L1779.3,1258.8 L1781.2,1259.3 L1783.2,1259.8 L1785.1,1260.3 L1787.0,1260.8 L1789.0,1261.2 L1790.9,1261.7 L1792.9,1262.1 L1794.8,1262.5 L1796.8,1263.0 L1798.8,1263.4 L1800.7,1263.8 L1802.7,1264.2 L1804.7,1264.6 L1806.6,1265.0 L1808.6,1265.3 L1810.6,1265.7 L1812.5,1266.1 L1814.5,1266.5 L1816.5,1266.8 L1818.5,1267.2 L1820.4,1267.5 L1822.4,1267.9 L1824.4,1268.2 L1826.4,1268.6 L1828.3,1268.9 L1830.3,1269.3 L1832.3,1269.6 L1834.3,1270.0 L1836.2,1270.3 L1838.2,1270.6 L1840.2,1271.0 L1842.2,1271.3 L1844.1,1271.6 L1846.1,1272.0 L1848.1,1272.3 L1850.1,1272.6 L1852.0,1272.9 L1854.0,1273.2 L1856.0,1273.5 L1858.0,1273.9 L1860.0,1274.2 L1861.9,1274.5 L1863.9,1274.8 L1865.9,1275.1 L1867.9,1275.4 L1869.8,1275.7 L1871.8,1275.9 L1873.8,1276.2 L1875.8,1276.5 L1877.8,1276.8 L1879.7,1277.1 L1881.7,1277.4 L1883.7,1277.6 L1885.7,1277.9 L1887.7,1278.2 L1889.6,1278.5 L1891.6,1278.7 L1893.6,1279.0 L1895.6,1279.2 L1897.6,1279.5 L1899.5,1279.8 L1901.5,1280.0 L1903.5,1280.3 L1905.5,1280.5 L1907.5,1280.8 L1909.5,1281.0 L1911.4,1281.2 L1913.4,1281.5 L1915.4,1281.7 L1917.4,1281.9 L1919.4,1282.2 L1921.4,1282.4 L1923.3,1282.6 L1925.3,1282.8 L1927.3,1283.1 L1929.3,1283.3 L1931.3,1283.5 L1933.3,1283.7 L1935.3,1283.9 L1937.2,1284.1 L1939.2,1284.3 L1941.2,1284.5 L1943.2,1284.7 L1945.2,1284.9 L1947.2,1285.1 L1949.2,1285.3 L1951.2,1285.4 L1953.1,1285.6 L1955.1,1285.8 L1957.1,1286.0 L1959.1,1286.1 L1961.1,1286.3 L1963.1,1286.5 L1965.1,1286.6 L1967.1,1286.8 L1969.1,1287.0 L1971.1,1287.1 L1973.1,1287.3 L1975.0,1287.4 L1977.0,1287.6 L1979.0,1287.7 L1981.0,1287.8 L1983.0,1288.0 L1985.0,1288.1 L1987.0,1288.2 L1989.0,1288.4 L1991.0,1288.5 L1993.0,1288.6 L1995.0,1288.7 L1997.0,1288.9 L1999.0,1289.0 L2001.0,1289.1 L2003.0,1289.2 L2005.0,1289.3 L2007.0,1289.4 L2008.9,1289.5 L2010.9,1289.6 L2012.9,1289.7 L2014.9,1289.8 L2016.9,1289.9 L2018.9,1289.9 L2020.9,1290.0 L2022.9,1290.1 L2024.9,1290.2 L2026.9,1290.2 L2028.9,1290.3 L2030.9,1290.4 L2032.9,1290.4 L2034.9,1290.5 L2036.9,1290.5 L2038.9,1290.6 L2040.9,1290.6 L2042.9,1290.7 L2045.0,1290.7 L2047.0,1290.8 L2049.0,1290.8 L2051.0,1290.8 L2053.0,1290.9 L2055.0,1290.9 L2057.0,1290.9 L2059.0,1290.9 L2061.0,1291.0 L2063.0,1291.0 L2065.0,1291.0 L2067.0,1291.0 L2069.0,1291.0 L2071.0,1291.0 L2073.0,1291.0 L2075.0,1291.0 L2077.0,1291.0"/>
</g>
<g font-family="Liberation Sans, Arial, sans-serif" font-size="72" fill="#000">
<text x="212.6" y="1317.3" text-anchor="end">0</text>
<text y="1110.3"><tspan x="136.5">1</tspan><tspan x="172.55">0</tspan></text>
<text x="212.6" y="903.3" text-anchor="end">20</text>
<text x="212.6" y="696.2" text-anchor="end">30</text>
<text x="212.6" y="489.2" text-anchor="end">40</text>
<text x="212.6" y="282.2" text-anchor="end">50</text>
<text x="212.6" y="75.2" text-anchor="end">60</text>
<text x="273.5" y="1404" text-anchor="middle">350</text>
<text x="733.8" y="1404" text-anchor="middle">450</text>
<text x="1194.1" y="1404" text-anchor="middle">550</text>
<text x="1654.4" y="1404" text-anchor="middle">650</text>
<text x="2114.7" y="1404" text-anchor="middle">750</text>
<text x="1193" y="1487.4" text-anchor="middle">Wavelength / nm</text>
<text transform="translate(79.2,664.3) rotate(-90)" text-anchor="middle">EQE / %</text>
<path d="M1395.8,138.0 H1471" stroke="#FF0000" stroke-width="11.8" stroke-linecap="round" fill="none"/>
<text x="1496" y="166.3">Ligand exchange</text>
<path d="M1395.8,282.4 H1471" stroke="#00B050" stroke-width="11.8" stroke-linecap="round" fill="none"/>
<text x="1496" y="310.7"><tspan dx="4">1</tspan><tspan dx="-4">:</tspan><tspan dx="4">1</tspan></text>
<path d="M1395.8,426.8 H1471" stroke="#00B0F0" stroke-width="11.8" stroke-linecap="round" fill="none"/>
<text x="1496" y="455.1">Sequential</text>
</g>
<g fill="#fff">
<rect x="141.00" y="1103.5" width="13.62" height="7"/>
<rect x="160.96" y="1103.5" width="13.2" height="7"/>
<rect x="1504.00" y="304.5" width="14.13" height="7"/>
<rect x="1524.46" y="304.5" width="13.2" height="7"/>
<rect x="1564.00" y="304.5" width="14.13" height="7"/>
<rect x="1584.46" y="304.5" width="13.2" height="7"/>
</g>
</svg>
</body></html>
